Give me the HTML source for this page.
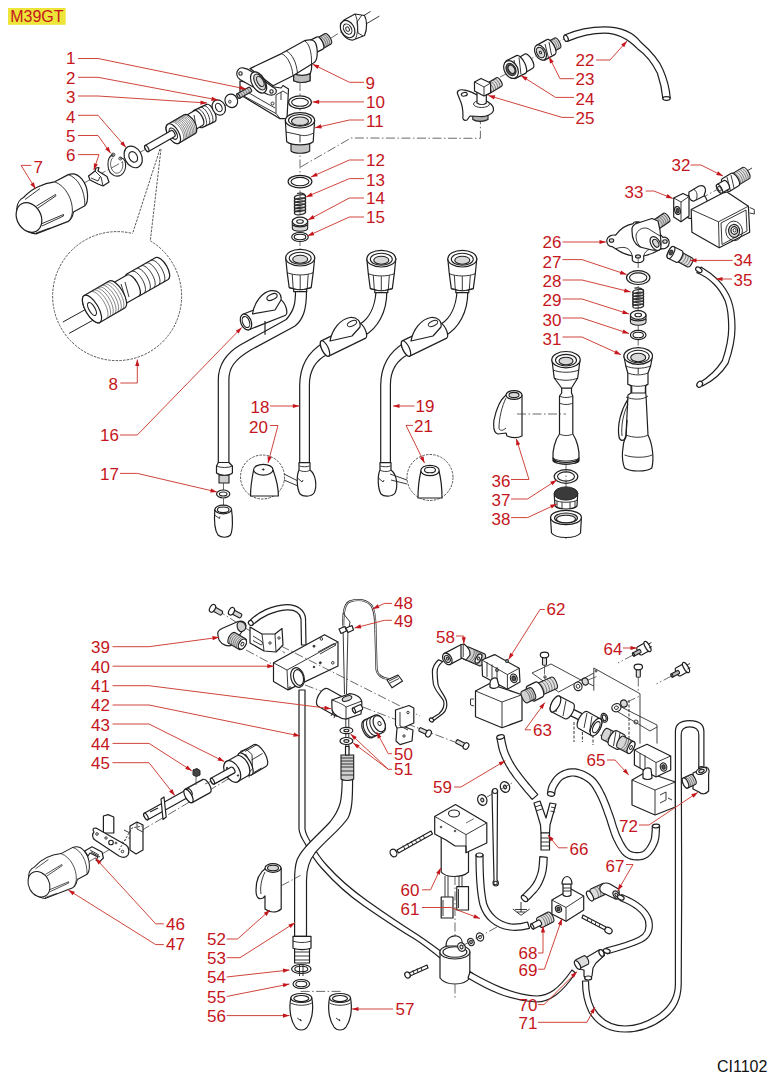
<!DOCTYPE html>
<html><head><meta charset="utf-8"><style>
html,body{margin:0;padding:0;background:#fff;}
body{width:769px;height:1075px;overflow:hidden;position:relative;}
svg{position:absolute;left:0;top:0;}
.lb text{font-family:"Liberation Sans",sans-serif;font-size:17px;fill:#c4161c;}
.ar .ld{fill:none;stroke:#cc3b30;stroke-width:0.95;}
.ar path{fill:#c4161c;}
.p{fill:#fff;stroke:#1f1f1f;stroke-width:1.2;stroke-linejoin:round;}
.w{fill:#fff;stroke:#1f1f1f;stroke-width:1.1;}
.g{fill:#d8d8d8;stroke:#1f1f1f;stroke-width:1.1;}
.dk{fill:#555;stroke:#262626;stroke-width:1;}
.ln{fill:none;stroke:#222;stroke-width:0.9;}
.ln2{fill:none;stroke:#333;stroke-width:0.6;}
.ring{fill:none;stroke:#262626;stroke-width:1.1;}
.ring2{fill:none;stroke:#262626;stroke-width:0.7;}
.dd{fill:none;stroke:#444;stroke-width:0.8;stroke-dasharray:9 2.5 1.5 2.5;}
.dash{fill:none;stroke:#444;stroke-width:0.8;stroke-dasharray:2.5 1.8;}
.dashc{fill:none;stroke:#444;stroke-width:0.9;stroke-dasharray:2.5 1.2;}
</style></head><body>
<svg width="769" height="1075" viewBox="0 0 769 1075">
<rect x="8" y="8" width="57.7" height="16.8" fill="#ede53a"/>
<text x="10.2" y="22" style="font-family:'Liberation Sans',sans-serif;font-size:16px;fill:#c4161c">M39GT</text>
<g id="parts">
<path class="dd" d="M84,183 L250,92"/>
<path class="p" d="M23.5,197.5 C31,189 43,183 54.7,181.8 L68.3,174.6 C79,171 87,183 87.5,194.3 C87.8,200 86.5,204.5 84.9,205.8 L73.5,212 C72.5,217 70,220.5 68.3,221.4 L36,233.9 C24,233 16.5,222 16.8,208.9 C17,203.5 20,199 23.5,197.5 Z"/>
<path class="ln" d="M54.7,181.8 C66,186 73,200 72.4,212 C72,216 70,220 68.3,221.4"/>
<path class="ln" d="M68.3,174.6 C78,178 85,190 84.9,205.8"/>
<ellipse class="p" cx="29" cy="217.5" rx="12" ry="15.5" transform="rotate(-28 29 217.5)"/>
<path class="ln" d="M36.5,206 L55.5,194.5 L56,195.8 L38,208"/>
<path class="ln" d="M41,224 L63.5,214.5 L63.5,216 L42,226"/>
<path class="ln" d="M25,199.5 L40,188.5"/>
<path class="ln" d="M36,233 L50,228"/>
<path class="p" d="M88.5,176 L95,171 L96,168 L99,167.5 L98,171 L107,176.5 L109,182 L103,186 L98,184 L90,180 Z"/>
<path class="ln" d="M95,171 L101,177 L103,186 M91,178 L98,181 L100,177"/>
<path class="ring" d="M113.7,154.6 C106,156 106,172 114,175.5 C122,178.5 127.5,170 125,161 C124,159 122,157.5 120,158.3"/>
<path class="ring2" d="M113,157.5 C109,161 110,170.5 115.5,173 C120.5,174.5 124,168 122.5,161.5"/>
<circle cx="113.2" cy="154.8" r="1.7" class="ln"/>
<circle cx="120.3" cy="158.5" r="1.5" class="ln"/>
<ellipse class="p" cx="133.2" cy="156.9" rx="8.4" ry="11.4" transform="rotate(-28.0 133.2 156.9)" />
<ellipse class="w" cx="133.2" cy="156.9" rx="4.0" ry="5.6" transform="rotate(-28.0 133.2 156.9)" />
<path class="p" d="M202.1,127.6 L214.8,121.6 C216.8,120.6 216.5,116.0 214.3,111.3 C212.1,106.6 208.6,103.5 206.6,104.4 L193.9,110.4 C191.9,111.4 192.2,116.0 194.4,120.7 C196.6,125.4 200.1,128.5 202.1,127.6 Z" />
<path class="ln" d="M205.2,126.1 C207.2,125.1 207.0,120.5 204.8,115.8 C202.5,111.1 199.1,108.0 197.1,108.9"/><path class="ln" d="M208.4,124.6 C210.4,123.6 210.2,119.0 208.0,114.3 C205.7,109.6 202.3,106.5 200.3,107.4"/><path class="ln" d="M211.6,123.1 C213.6,122.1 213.4,117.5 211.1,112.8 C208.9,108.1 205.5,105.0 203.5,105.9"/>
<path class="p" d="M191.8,131.8 L202.8,125.3 C204.6,124.2 204.2,120.1 201.8,116.1 C199.4,112.0 196.0,109.6 194.2,110.7 L183.2,117.2 C181.4,118.3 181.8,122.4 184.2,126.4 C186.6,130.5 190.0,132.9 191.8,131.8 Z" />
<path class="ln" d="M190,117.5 L193,131 M194,115 L196.5,129"/>
<path class="p" d="M178.8,143.2 L195.0,133.8 C197.6,132.3 197.3,126.8 194.3,121.5 C191.2,116.3 186.6,113.3 184.0,114.8 L167.8,124.2 C165.2,125.7 165.5,131.2 168.5,136.5 C171.6,141.7 176.2,144.7 178.8,143.2 Z" /><ellipse class="p" cx="173.3" cy="133.7" rx="5.5" ry="11.0" transform="rotate(-30.1 173.3 133.7)" />
<path class="ln2" d="M181.9,141.4 C184.5,139.9 184.2,134.4 181.1,129.2 C178.1,123.9 173.5,120.9 170.9,122.4"/><path class="ln2" d="M183.4,140.6 C186.0,139.1 185.6,133.6 182.6,128.3 C179.5,123.1 174.9,120.0 172.3,121.6"/><path class="ln2" d="M184.8,139.7 C187.4,138.2 187.1,132.7 184.1,127.5 C181.0,122.2 176.4,119.2 173.8,120.7"/><path class="ln2" d="M186.3,138.9 C188.9,137.4 188.6,131.9 185.5,126.6 C182.5,121.4 177.9,118.3 175.2,119.9"/><path class="ln2" d="M187.7,138.0 C190.4,136.5 190.0,131.0 187.0,125.8 C183.9,120.5 179.3,117.5 176.7,119.0"/><path class="ln2" d="M189.2,137.2 C191.8,135.7 191.5,130.2 188.4,124.9 C185.4,119.7 180.8,116.6 178.1,118.2"/><path class="ln2" d="M190.6,136.4 C193.3,134.8 192.9,129.3 189.9,124.1 C186.8,118.8 182.2,115.8 179.6,117.3"/><path class="ln2" d="M192.1,135.5 C194.7,134.0 194.4,128.5 191.3,123.2 C188.3,118.0 183.7,115.0 181.1,116.5"/><path class="ln2" d="M193.6,134.7 C196.2,133.1 195.8,127.6 192.8,122.4 C189.8,117.1 185.1,114.1 182.5,115.6"/>
<ellipse class="p" cx="173.3" cy="133.7" rx="3.2" ry="6.2" transform="rotate(-30.0 173.3 133.7)" />
<path class="p" d="M148.5,151.5 L174.7,136.5 C175.4,136.0 175.3,134.4 174.3,132.7 C173.4,131.1 172.0,130.1 171.3,130.5 L145.1,145.5 C144.4,146.0 144.5,147.6 145.5,149.3 C146.4,150.9 147.8,151.9 148.5,151.5 Z" /><ellipse class="p" cx="146.8" cy="148.5" rx="1.5" ry="3.4" transform="rotate(-29.8 146.8 148.5)" />
<ellipse class="p" cx="218.8" cy="107.5" rx="6.4" ry="7.9" transform="rotate(-28.0 218.8 107.5)" />
<ellipse class="w" cx="218.8" cy="107.5" rx="3.0" ry="4.4" transform="rotate(-28.0 218.8 107.5)" />
<ellipse class="p" cx="231.3" cy="100.8" rx="6.2" ry="6.9" transform="rotate(-28.0 231.3 100.8)" />
<ellipse class="ln" cx="229.8" cy="101.7" rx="1.2" ry="1.5" transform="rotate(0.0 229.8 101.7)" />
<path class="dashc" d="M160,149 L132.6,233.5 M161,149 L150.3,240.8"/>
<path class="dashc" d="M150.3,240.8 A64.5,64.5 0 1 1 132.6,233.5"/>
<path class="ln" d="M62.9,322 L90,307 M69.1,333.4 L96,318.5" style="stroke-width:1"/>
<path class="p" d="M139.2,295.9 L168.2,279.4 C170.7,277.9 170.0,271.9 166.6,265.9 C163.1,259.9 158.3,256.2 155.8,257.6 L126.8,274.1 C124.3,275.6 125.0,281.6 128.4,287.6 C131.9,293.6 136.7,297.3 139.2,295.9 Z" />
<path class="ln" d="M144.0,293.1 C146.5,291.7 145.8,285.7 142.4,279.7 C139.0,273.7 134.2,270.0 131.7,271.4"/><path class="ln" d="M148.8,290.4 C151.4,288.9 150.6,282.9 147.2,276.9 C143.8,270.9 139.0,267.2 136.5,268.6"/><path class="ln" d="M153.7,287.6 C156.2,286.2 155.5,280.2 152.1,274.2 C148.6,268.2 143.8,264.5 141.3,265.9"/><path class="ln" d="M158.5,284.9 C161.0,283.4 160.3,277.4 156.9,271.4 C153.5,265.4 148.7,261.7 146.2,263.1"/><path class="ln" d="M163.3,282.1 C165.9,280.7 165.1,274.7 161.7,268.7 C158.3,262.7 153.5,259.0 151.0,260.4"/>
<path class="p" d="M125.0,303.9 L139.0,295.9 C141.4,294.5 140.7,288.8 137.4,283.0 C134.1,277.2 129.5,273.7 127.0,275.1 L113.0,283.1 C110.6,284.5 111.3,290.2 114.6,296.0 C117.9,301.8 122.5,305.3 125.0,303.9 Z" />
<path class="ln" d="M121,284 L126,300 M125,282 L129,297"/>
<path class="p" d="M99.8,322.4 L124.8,307.9 C127.9,306.1 126.9,298.6 122.6,291.2 C118.3,283.8 112.3,279.3 109.2,281.1 L84.2,295.6 C81.1,297.4 82.1,304.9 86.4,312.3 C90.7,319.7 96.7,324.2 99.8,322.4 Z" /><ellipse class="p" cx="92.0" cy="309.0" rx="6.5" ry="15.5" transform="rotate(-30.1 92.0 309.0)" />
<path class="ln2" d="M106.2,318.7 C109.3,316.9 108.3,309.4 104.0,302.0 C99.7,294.6 93.7,290.1 90.6,291.9"/><path class="ln2" d="M108.8,317.2 C111.9,315.3 111.0,307.9 106.7,300.5 C102.4,293.1 96.4,288.5 93.3,290.3"/><path class="ln2" d="M111.5,315.6 C114.6,313.8 113.6,306.3 109.4,298.9 C105.1,291.5 99.1,287.0 95.9,288.8"/><path class="ln2" d="M114.2,314.1 C117.3,312.3 116.3,304.8 112.0,297.4 C107.7,290.0 101.7,285.5 98.6,287.3"/><path class="ln2" d="M116.8,312.5 C119.9,310.7 119.0,303.3 114.7,295.9 C110.4,288.5 104.4,283.9 101.3,285.7"/><path class="ln2" d="M119.5,311.0 C122.6,309.2 121.6,301.7 117.3,294.3 C113.0,286.9 107.0,282.4 103.9,284.2"/><path class="ln2" d="M122.1,309.4 C125.2,307.6 124.3,300.2 120.0,292.8 C115.7,285.4 109.7,280.8 106.6,282.6"/>
<ellipse class="p" cx="92.0" cy="309.0" rx="3.0" ry="7.2" transform="rotate(-30.0 92.0 309.0)" />
<path class="ln" d="M361.2,17.2 L370.6,11.4 M364.3,25 L379.4,16.1" style="stroke-width:0.9"/>
<path class="dd" d="M330.4,38.5 L341.8,31.2"/>
<path class="p" d="M344,20 L355,14 L364.5,15.5 C367,20 367.5,29 364.5,35.5 L353,40 C347,40.5 340,34 341,26 Z"/>
<path class="ln" d="M355,14 C358,20 359,30 355.5,39 M362,15 L357,22 L358,33 L363,36"/>
<ellipse class="p" cx="347.6" cy="29.1" rx="6.6" ry="9.2" transform="rotate(-30.0 347.6 29.1)" />
<ellipse class="w" cx="347.6" cy="29.1" rx="3.8" ry="5.5" transform="rotate(-30.0 347.6 29.1)" />
<ellipse class="ln" cx="347.6" cy="29.1" rx="1.6" ry="2.4" transform="rotate(-30.0 347.6 29.1)" />
<path class="p" d="M240,81 L240,94.5 L280,118.7 L287,118.7 L288.5,89 L283,85.5 L281,88 L254,84 Z"/>
<path class="ln" d="M241,94.5 L276,113.5 L280,118.5 M276,113.5 L276,95 L283,91 L287.5,94 M242,89 L275,108 M281,92 L281,100"/>
<circle class="ln" cx="272.5" cy="103.5" r="1.5"/>
<path class="g" d="M322.0,49.2 L331.0,44.0 C332.1,43.3 331.7,40.5 330.1,37.6 C328.4,34.7 326.1,32.9 325.0,33.6 L316.0,38.8 C314.9,39.5 315.3,42.3 316.9,45.2 C318.6,48.1 320.9,49.9 322.0,49.2 Z" style="fill:#d0d0d0"/>
<path class="ln2" d="M323.8,48.2 C324.9,47.5 324.5,44.6 322.9,41.8 C321.2,38.9 318.9,37.1 317.8,37.8"/><path class="ln2" d="M325.6,47.1 C326.7,46.5 326.3,43.6 324.7,40.7 C323.0,37.9 320.7,36.1 319.6,36.7"/><path class="ln2" d="M327.4,46.1 C328.5,45.4 328.1,42.5 326.5,39.7 C324.8,36.8 322.5,35.0 321.4,35.7"/><path class="ln2" d="M329.2,45.0 C330.3,44.4 329.9,41.5 328.3,38.6 C326.6,35.8 324.3,34.0 323.2,34.6"/>
<path class="p" d="M316.0,52.6 L323.0,49.1 C324.4,48.4 324.1,45.1 322.4,41.8 C320.8,38.4 318.3,36.2 317.0,36.9 L310.0,40.4 C308.6,41.1 308.9,44.4 310.6,47.7 C312.2,51.1 314.7,53.3 316.0,52.6 Z" />
<path class="p" d="M293.7,66 L311.5,62 C312,67 311,72 310,74 L310,80.8 C305,83 298,83 293.7,80.8 Z"/>
<path class="g" d="M293.7,73.5 C298,76 306,76 310,73.5 L310,80.8 C305,83 298,83 293.7,80.8 Z" style="fill:#bdbdbd"/>
<path class="p" d="M250,68.6 L281.5,53.6 L304.4,40.7 C309,39.5 313,40 314.4,41.4 C317,44 318,52 316.6,58.6 C316,61 314,63 311.5,64.3 L293,75.8 L273,85.8 Z"/>
<path class="ln" d="M281.5,53.6 C287,56 292,64 293,75.8 M286.5,51 C292,54 296.5,62 297.5,73.5 M304.4,40.7 C309,43 312,52 311.5,64.3"/>
<path class="p" d="M237.2,71.5 C238.5,68.5 240.5,67.5 243,67.8 C246,68.2 249,69.5 251.5,71.5 L273,87.2 C276,88.5 277,91 275.8,93 C274.5,95 271,95.5 268,94.5 L260,91 L240,79.4 C237,77.5 236.3,74 237.2,71.5 Z"/>
<circle class="w" cx="240.5" cy="73.5" r="1.7"/><circle class="w" cx="271.5" cy="91.5" r="1.7"/>
<ellipse class="p" cx="258.6" cy="82.5" rx="6.6" ry="11.5" transform="rotate(-30.0 258.6 82.5)" />
<ellipse class="g" cx="259.6" cy="82.0" rx="4.6" ry="8.8" transform="rotate(-30.0 259.6 82.0)" />
<ellipse class="ln" cx="260.3" cy="81.5" rx="2.8" ry="5.6" transform="rotate(-30.0 260.3 81.5)" />
<path class="dd" d="M300,82 L300,250"/>
<path class="dd" d="M300.7,167 L351,138 L480.4,138.3 L480.4,121"/>
<ellipse class="p" cx="300.0" cy="102.3" rx="11.4" ry="6.4" transform="rotate(0.0 300.0 102.3)" />
<ellipse class="w" cx="300.0" cy="102.3" rx="8.4" ry="4.0" transform="rotate(0.0 300.0 102.3)" />
<path class="g" d="M291,141.8 L309.7,141.8 L309.7,151 C306,154 294,154 291,151 Z" style="fill:#c4c4c4"/>
<path class="p" d="M285.3,120.3 L286.7,141.8 C292,146 308,146 313.2,141.8 L314.6,120.3 Z"/>
<path class="ln" d="M286,132 L300,135 L300,142.5 M300,135 C303,136 308,136 313.5,133"/>
<ellipse class="p" cx="300.0" cy="120.3" rx="14.6" ry="7.7" transform="rotate(0.0 300.0 120.3)" />
<ellipse class="w" cx="300.0" cy="120.3" rx="11.5" ry="5.8" transform="rotate(0.0 300.0 120.3)" />
<ellipse class="g" cx="300.0" cy="121.2" rx="8.5" ry="4.2" transform="rotate(0.0 300.0 121.2)" />
<ellipse class="p" cx="300.0" cy="181.6" rx="11.9" ry="6.3" transform="rotate(0.0 300.0 181.6)" />
<ellipse class="w" cx="300.0" cy="181.6" rx="9.0" ry="4.2" transform="rotate(0.0 300.0 181.6)" />
<ellipse class="ring" cx="300.0" cy="197.0" rx="5.6" ry="2.1" transform="rotate(-8.0 300.0 197.0)" style="stroke-width:1.3;stroke:#333"/>
<ellipse class="ring" cx="300.0" cy="200.1" rx="5.6" ry="2.1" transform="rotate(-8.0 300.0 200.1)" style="stroke-width:1.3;stroke:#333"/>
<ellipse class="ring" cx="300.0" cy="203.2" rx="5.6" ry="2.1" transform="rotate(-8.0 300.0 203.2)" style="stroke-width:1.3;stroke:#333"/>
<ellipse class="ring" cx="300.0" cy="206.3" rx="5.6" ry="2.1" transform="rotate(-8.0 300.0 206.3)" style="stroke-width:1.3;stroke:#333"/>
<ellipse class="ring" cx="300.0" cy="209.4" rx="5.6" ry="2.1" transform="rotate(-8.0 300.0 209.4)" style="stroke-width:1.3;stroke:#333"/>
<ellipse class="ring" cx="300.0" cy="212.5" rx="5.6" ry="2.1" transform="rotate(-8.0 300.0 212.5)" style="stroke-width:1.3;stroke:#333"/>
<path class="ln" d="M294.4,197 L294.4,213 M305.6,196 L305.6,212.5"/>
<path class="ln" d="M297,193.5 C300,192.5 304,193 305.5,195.5" style="stroke-width:1.2"/>
<path class="g" d="M292.3,221.5 L292.3,228.0 C292.3,229.8 295.7,231.2 300.0,231.2 C304.3,231.2 307.7,229.8 307.7,228.0 L307.7,221.5 C307.7,219.7 304.3,218.3 300.0,218.3 C295.7,218.3 292.3,219.7 292.3,221.5 Z" />
<ellipse class="p" cx="300.0" cy="221.5" rx="7.7" ry="4.3" transform="rotate(0.0 300.0 221.5)" />
<ellipse class="w" cx="300.0" cy="221.5" rx="3.3" ry="1.8" transform="rotate(0.0 300.0 221.5)" />
<path class="ln" d="M292.5,225 C296,227.5 304,227.5 307.5,225" style="stroke-width:1.4"/>
<ellipse class="p" cx="300.0" cy="237.0" rx="8.3" ry="4.5" transform="rotate(0.0 300.0 237.0)" />
<ellipse class="w" cx="300.0" cy="237.0" rx="5.8" ry="2.7" transform="rotate(0.0 300.0 237.0)" />
<path class="g" d="M239.8,98.3 L251.3,91.8 C251.8,91.5 251.7,90.2 251.0,89.0 C250.2,87.7 249.2,86.9 248.7,87.2 L237.2,93.7 C236.7,94.0 236.8,95.3 237.5,96.5 C238.3,97.8 239.3,98.6 239.8,98.3 Z" style="fill:#ccc"/><ellipse class="g" cx="238.5" cy="96.0" rx="1.1" ry="2.6" transform="rotate(-29.5 238.5 96.0)" />
<path class="ln2" d="M242.1,97.0 C242.6,96.7 242.5,95.4 241.8,94.2 C241.0,92.9 240.0,92.1 239.5,92.4"/><path class="ln2" d="M244.4,95.7 C244.9,95.4 244.8,94.1 244.1,92.9 C243.3,91.6 242.3,90.8 241.8,91.1"/><path class="ln2" d="M246.7,94.4 C247.2,94.1 247.1,92.8 246.4,91.6 C245.6,90.3 244.6,89.5 244.1,89.8"/><path class="ln2" d="M249.0,93.1 C249.5,92.8 249.4,91.5 248.7,90.3 C247.9,89.0 246.9,88.2 246.4,88.5"/>
<path class="p" d="M295.5,290.7 C295.5,302 294.7,310 286.2,319.5 L240.6,344.8 C225,354 218.3,365 218.3,380 L218.3,462.5 L228.9,462.5 L228.9,380 C228.9,368 234,360 250.7,350 L294.7,326.2 C304,319 306.5,308 306.5,290.7 Z"/>
<path class="p" d="M285.7,257.7 L287.2,272.7 L289.2,287.7 L293.7,288.7 L293.7,291.7 L306.7,291.7 L306.7,288.7 L311.2,287.7 L313.2,272.7 L314.7,257.7 Z"/>
<path class="ln" d="M287.2,272.7 C294.2,275.7 306.2,275.7 313.2,272.7 M289.2,287.7 C295.2,290.2 305.2,290.2 311.2,287.7 M300.2,275.2 L300.2,289.2 M292.2,274.2 L293.2,288.7 M308.2,274.2 L307.2,288.7 M293.7,288.7 C297.2,290.2 303.2,290.2 306.7,288.7"/>
<ellipse class="p" cx="300.2" cy="257.7" rx="14.5" ry="8.3" transform="rotate(0.0 300.2 257.7)" />
<ellipse class="w" cx="300.2" cy="258.2" rx="11.0" ry="6.0" transform="rotate(0.0 300.2 258.2)" />
<ellipse class="g" cx="300.2" cy="259.2" rx="7.5" ry="4.0" transform="rotate(0.0 300.2 259.2)" />
<path class="p" d="M249.1,329.7 L285.6,315.2 C287.3,314.5 287.3,310.5 285.6,306.3 C283.9,302.0 281.1,299.1 279.4,299.8 L242.9,314.3 C241.2,315.0 241.2,319.0 242.9,323.2 C244.6,327.5 247.4,330.4 249.1,329.7 Z" />
<path class="p" d="M252.5,314 C254,303 262,292 271,290.7 C278,290 282,294 281,300 L275,310 Z"/>
<ellipse class="w" cx="272.0" cy="297.0" rx="5.5" ry="2.8" transform="rotate(-25.0 272.0 297.0)" />
<ellipse class="p" cx="246.0" cy="322.0" rx="5.2" ry="8.3" transform="rotate(-22.0 246.0 322.0)" />
<ellipse class="w" cx="246.0" cy="322.0" rx="3.4" ry="5.8" transform="rotate(-22.0 246.0 322.0)" />
<path class="ln" d="M265,321 L265,334.7" style="stroke-width:1.2"/>
<path class="g" d="M219,475 L229,475 L229,483 L219,483 Z" style="fill:#cfcfcf"/>
<path class="p" d="M218.3,462.5 L228.9,462.5 L232.4,466 L232.4,473 C229,476 220,476 216.5,473 L216.5,466 Z"/>
<path class="ln" d="M216.5,466 C220,468 229,468 232.4,466"/>
<path class="dd" d="M223.5,483 L223.5,506"/>
<ellipse class="p" cx="223.2" cy="494.0" rx="6.6" ry="4.0" transform="rotate(0.0 223.2 494.0)" />
<ellipse class="w" cx="223.2" cy="494.0" rx="3.8" ry="2.0" transform="rotate(0.0 223.2 494.0)" />
<path class="p" d="M214.8,509.5 C214,520 214.5,530 218,535 C221,538 228,538 230.5,535 C233,530 232.8,518 231.5,509.5 Z"/>
<ellipse class="p" cx="223.2" cy="509.5" rx="8.3" ry="4.3" transform="rotate(0.0 223.2 509.5)" />
<ellipse class="w" cx="223.2" cy="509.8" rx="5.8" ry="2.8" transform="rotate(0.0 223.2 509.8)" />
<path class="ln" d="M214.5,515 L219.5,518.5 L220,516.5"/>
<circle class="dashc" cx="262.5" cy="477" r="22"/>
<path class="p" d="M253.6,470 C252,478 250.5,488 250.5,496 L278.4,496 C278.4,488 276,478 273,470 Z"/>
<ellipse class="p" cx="263.3" cy="469.7" rx="9.7" ry="5.4" transform="rotate(0.0 263.3 469.7)" />
<ellipse class="dk" cx="263.3" cy="469.5" rx="0.9" ry="0.6" transform="rotate(0.0 263.3 469.5)" />
<path class="ln" d="M284,474 L298,481 M284,480 L298,486"/>
<path class="p" d="M376,292 C375,305 370,318 360,324 L323,343 C308,352 300,365 299.7,385 L299.7,462.6 L309.4,462.6 L309.4,385 C309.4,370 315,360 328.7,353.7 L364,336 C378,328 386.8,312 386.8,292 Z"/>
<path class="p" d="M366.8,258.7 L368.3,273.7 L370.3,288.7 L374.8,289.7 L374.8,292.7 L387.8,292.7 L387.8,289.7 L392.3,288.7 L394.3,273.7 L395.8,258.7 Z"/>
<path class="ln" d="M368.3,273.7 C375.3,276.7 387.3,276.7 394.3,273.7 M370.3,288.7 C376.3,291.2 386.3,291.2 392.3,288.7 M381.3,276.2 L381.3,290.2 M373.3,275.2 L374.3,289.7 M389.3,275.2 L388.3,289.7 M374.8,289.7 C378.3,291.2 384.3,291.2 387.8,289.7"/>
<ellipse class="p" cx="381.3" cy="258.7" rx="14.5" ry="8.3" transform="rotate(0.0 381.3 258.7)" />
<ellipse class="w" cx="381.3" cy="259.2" rx="11.0" ry="6.0" transform="rotate(0.0 381.3 259.2)" />
<ellipse class="g" cx="381.3" cy="260.2" rx="7.5" ry="4.0" transform="rotate(0.0 381.3 260.2)" />
<path class="p" d="M328.7,356.1 L365.7,338.1 C367.3,337.4 367.0,333.3 364.9,329.1 C362.9,324.9 359.9,322.1 358.3,322.9 L321.3,340.9 C319.7,341.6 320.0,345.7 322.1,349.9 C324.1,354.1 327.1,356.9 328.7,356.1 Z" />
<path class="p" d="M330,341 C332,330 340,319 350,317.5 C357,317 361,321 360,327 L352,336 Z"/>
<ellipse class="ln" cx="352.0" cy="323.5" rx="5.0" ry="2.5" transform="rotate(-25.0 352.0 323.5)" />
<ellipse class="p" cx="325.0" cy="348.5" rx="3.2" ry="8.5" transform="rotate(-26.0 325.0 348.5)" />
<path class="p" d="M299,462.6 L299,470 C296.5,475 296.5,488 300,494 C303,497 311,497 314,493 C317,487 316.5,475 310,470 L310,462.6 Z"/>
<path class="ln" d="M299,470 C302,472 308,472 310,470 M299.5,466 C302,467 307,467 309.5,466"/>
<path class="ln" d="M297.5,478 L302,482 L303,480"/>
<path class="p" d="M457,292 C456,305 451,318 441,324 L404,343 C389,352 381,365 380.7,385 L380.7,462.6 L390.4,462.6 L390.4,385 C390.4,370 396,360 409.7,353.7 L445,336 C459,328 467.8,312 467.8,292 Z"/>
<path class="p" d="M447.8,258.7 L449.3,273.7 L451.3,288.7 L455.8,289.7 L455.8,292.7 L468.8,292.7 L468.8,289.7 L473.3,288.7 L475.3,273.7 L476.8,258.7 Z"/>
<path class="ln" d="M449.3,273.7 C456.3,276.7 468.3,276.7 475.3,273.7 M451.3,288.7 C457.3,291.2 467.3,291.2 473.3,288.7 M462.3,276.2 L462.3,290.2 M454.3,275.2 L455.3,289.7 M470.3,275.2 L469.3,289.7 M455.8,289.7 C459.3,291.2 465.3,291.2 468.8,289.7"/>
<ellipse class="p" cx="462.3" cy="258.7" rx="14.5" ry="8.3" transform="rotate(0.0 462.3 258.7)" />
<ellipse class="w" cx="462.3" cy="259.2" rx="11.0" ry="6.0" transform="rotate(0.0 462.3 259.2)" />
<ellipse class="g" cx="462.3" cy="260.2" rx="7.5" ry="4.0" transform="rotate(0.0 462.3 260.2)" />
<path class="p" d="M409.7,356.1 L446.7,338.1 C448.3,337.4 448.0,333.3 445.9,329.1 C443.9,324.9 440.9,322.1 439.3,322.9 L402.3,340.9 C400.7,341.6 401.0,345.7 403.1,349.9 C405.1,354.1 408.1,356.9 409.7,356.1 Z" />
<path class="p" d="M411,341 C413,330 421,319 431,317.5 C438,317 442,321 441,327 L433,336 Z"/>
<ellipse class="ln" cx="433.0" cy="323.5" rx="5.0" ry="2.5" transform="rotate(-25.0 433.0 323.5)" />
<ellipse class="p" cx="406.0" cy="348.5" rx="3.2" ry="8.5" transform="rotate(-26.0 406.0 348.5)" />
<path class="p" d="M380,462.6 L380,470 C377.5,475 377.5,488 381,494 C384,497 392,497 395,493 C398,487 397.5,475 391,470 L391,462.6 Z"/>
<path class="ln" d="M380,470 C383,472 389,472 391,470 M380.5,466 C383,467 388,467 390.5,466"/>
<path class="ln" d="M378.5,478 L383,482 L384,480"/>
<circle class="dashc" cx="430" cy="477.5" r="23"/>
<path class="p" d="M421,471 C419,479 418,489 418,498 L442,498 C442,489 441,479 439,471 Z"/>
<ellipse class="p" cx="430.0" cy="470.5" rx="9.2" ry="5.2" transform="rotate(0.0 430.0 470.5)" />
<ellipse class="w" cx="430.0" cy="470.0" rx="5.5" ry="2.8" transform="rotate(0.0 430.0 470.0)" />
<path class="ln" d="M390,474 L407,480 M391,480 L407,484"/>
<path class="p" d="M564.6,35 C578,29 590,26.8 604.6,26.8 C622,27 634,33 641,42.3 C652,52 659,60 662.9,69.6 C667,79 669.5,89 670.2,97.8 L662.9,98.7 C662,89 660,81 657.4,73.3 C652,62 645,54 637.4,48.7 C628,39 617,33.2 604.6,33.2 C592,33.2 580,36 567.3,41.4 Z"/>
<ellipse class="p" cx="666.5" cy="98.5" rx="3.7" ry="1.8" transform="rotate(0.0 666.5 98.5)" />
<ellipse class="p" cx="566.0" cy="38.3" rx="2.0" ry="3.3" transform="rotate(-25.0 566.0 38.3)" />
<path class="dd" d="M549,47 L564,39"/>
<path class="g" d="M552.7,52.1 L560.2,48.1 C561.4,47.5 561.1,44.7 559.5,41.9 C558.0,39.1 555.9,37.3 554.8,37.9 L547.3,41.9 C546.1,42.5 546.4,45.3 548.0,48.1 C549.5,50.9 551.6,52.7 552.7,52.1 Z" style="fill:#e0e0e0"/>
<path class="ln2" d="M554.6,51.1 C555.7,50.5 555.4,47.7 553.9,44.9 C552.4,42.1 550.3,40.3 549.1,40.9"/><path class="ln2" d="M556.5,50.1 C557.6,49.5 557.3,46.7 555.8,43.9 C554.3,41.1 552.2,39.3 551.0,39.9"/><path class="ln2" d="M558.4,49.1 C559.5,48.5 559.2,45.7 557.7,42.9 C556.2,40.1 554.0,38.3 552.9,38.9"/>
<path class="p" d="M545.1,59.9 L555.1,54.4 C556.7,53.5 556.2,49.5 554.0,45.4 C551.7,41.2 548.5,38.6 546.9,39.6 L536.9,45.1 C535.3,46.0 535.8,50.0 538.0,54.1 C540.3,58.3 543.5,60.9 545.1,59.9 Z" />
<path class="ln" d="M545,44 L548.5,58 M549,42 L551.5,55"/>
<ellipse class="p" cx="540.5" cy="52.5" rx="5.2" ry="8.2" transform="rotate(-28.0 540.5 52.5)" />
<ellipse class="g" cx="540.5" cy="52.5" rx="3.6" ry="5.6" transform="rotate(-28.0 540.5 52.5)" />
<ellipse class="ln" cx="540.5" cy="52.5" rx="1.0" ry="1.4" transform="rotate(-28.0 540.5 52.5)" />
<path class="dd" d="M522,64 L536,56"/>
<path class="p" d="M523.1,73.9 L533.1,67.9 C534.6,67.0 534.0,63.1 531.7,59.4 C529.5,55.6 526.4,53.2 524.9,54.1 L514.9,60.1 C513.4,61.0 514.0,64.9 516.3,68.6 C518.5,72.4 521.6,74.8 523.1,73.9 Z" />
<path class="p" d="M515.5,78.4 L525.5,73.4 C527.4,72.5 527.0,67.7 524.6,62.7 C522.1,57.8 518.5,54.6 516.5,55.6 L506.5,60.6 C504.6,61.5 505.0,66.3 507.4,71.3 C509.9,76.2 513.5,79.4 515.5,78.4 Z" />
<path class="ln" d="M514,60 L517,77.5 M519,57.5 L521,74.5"/>
<ellipse class="p" cx="511.0" cy="69.5" rx="6.6" ry="9.5" transform="rotate(-28.0 511.0 69.5)" />
<ellipse class="dk" cx="511.0" cy="69.5" rx="4.6" ry="6.6" transform="rotate(-28.0 511.0 69.5)" />
<ellipse class="g" cx="511.5" cy="69.2" rx="3.0" ry="4.5" transform="rotate(-28.0 511.5 69.2)" />
<path class="dd" d="M500,77 L506,74"/>
<path class="g" d="M472.8,114.7 L488,114.7 L488,119.5 C484,122 476,122 472.8,119.5 Z" style="fill:#b0b0b0"/>
<path class="p" d="M458,95 C456,91 459,89.5 463,89.8 C467,90 472,92 477,95 L482,99 C490,102 494,106 493.5,110 C493,114 486,117 480,116.5 L470,116 L467,120 C464,121 462,119 463,116 C463,110 462,104 460,100 Z"/>
<ellipse class="w" cx="464.3" cy="94.3" rx="3.0" ry="1.8" transform="rotate(-10.0 464.3 94.3)" />
<ellipse class="ln" cx="481.5" cy="104.0" rx="8.0" ry="3.5" transform="rotate(0.0 481.5 104.0)" />
<path class="g" d="M486.6,95.3 L501.6,86.3 C502.6,85.7 502.2,83.3 500.8,80.9 C499.4,78.6 497.4,77.1 496.4,77.7 L481.4,86.7 C480.4,87.3 480.8,89.7 482.2,92.1 C483.6,94.4 485.6,95.9 486.6,95.3 Z" style="fill:#dedede"/>
<path class="ln2" d="M490.8,92.9 C491.8,92.3 491.4,89.9 490.0,87.6 C488.5,85.2 486.5,83.8 485.5,84.4"/><path class="ln2" d="M493.0,91.6 C493.9,91.0 493.6,88.6 492.1,86.2 C490.7,83.9 488.7,82.5 487.7,83.1"/><path class="ln2" d="M495.1,90.3 C496.1,89.7 495.7,87.3 494.3,84.9 C492.8,82.5 490.9,81.1 489.9,81.7"/><path class="ln2" d="M497.3,88.9 C498.3,88.3 497.9,85.9 496.5,83.6 C495.0,81.2 493.0,79.8 492.0,80.4"/><path class="ln2" d="M499.5,87.6 C500.4,87.0 500.1,84.6 498.6,82.2 C497.2,79.9 495.2,78.5 494.2,79.1"/>
<path class="p" d="M477,85 L477,103 C480,105 484,105 486.3,103 L486.3,85 Z"/>
<path class="p" d="M474.5,82 L481,78.5 L490.6,83 L490.6,92.7 L484,96 L474.5,91 Z"/>
<path class="ln" d="M474.5,82 L484,87 L490.6,83 M484,87 L484,96"/>
<path class="ln" d="M745,172 L752,168"/>
<path class="g" d="M737.9,185.6 L749.4,178.6 C750.7,177.8 750.2,174.6 748.3,171.6 C746.5,168.5 743.9,166.7 742.6,167.4 L731.1,174.4 C729.8,175.2 730.3,178.4 732.2,181.4 C734.0,184.5 736.6,186.3 737.9,185.6 Z" style="fill:#e4e4e4"/>
<path class="ln2" d="M739.8,184.4 C741.1,183.6 740.6,180.5 738.7,177.4 C736.9,174.3 734.3,172.5 733.0,173.3"/><path class="ln2" d="M741.7,183.2 C743.0,182.4 742.5,179.3 740.7,176.2 C738.8,173.2 736.2,171.3 735.0,172.1"/><path class="ln2" d="M743.6,182.1 C744.9,181.3 744.4,178.1 742.6,175.1 C740.7,172.0 738.2,170.2 736.9,170.9"/><path class="ln2" d="M745.5,180.9 C746.8,180.1 746.4,177.0 744.5,173.9 C742.6,170.8 740.1,169.0 738.8,169.8"/><path class="ln2" d="M747.5,179.7 C748.8,178.9 748.3,175.8 746.4,172.7 C744.5,169.7 742.0,167.8 740.7,168.6"/>
<path class="p" d="M729.8,191.2 L738.8,185.7 C740.3,184.8 739.7,181.3 737.6,177.9 C735.5,174.5 732.6,172.4 731.2,173.3 L722.2,178.8 C720.7,179.7 721.3,183.2 723.4,186.6 C725.5,190.0 728.4,192.1 729.8,191.2 Z" />
<path class="ln" d="M727,177 L730.5,191 M731,175 L734,188"/>
<path class="p" d="M722.0,193.1 L729.0,189.1 C730.0,188.6 729.7,186.2 728.3,183.8 C727.0,181.4 725.0,179.9 724.0,180.5 L717.0,184.5 C716.0,185.0 716.3,187.4 717.7,189.8 C719.0,192.2 721.0,193.7 722.0,193.1 Z" /><ellipse class="p" cx="719.5" cy="188.8" rx="2.1" ry="5.0" transform="rotate(-29.7 719.5 188.8)" />
<ellipse class="ln" cx="719.5" cy="188.8" rx="1.5" ry="2.5" transform="rotate(-30.0 719.5 188.8)" />
<path class="dd" d="M700,199 L718,189"/>
<path class="p" d="M691.1,218.2 L707.1,209.2 C709.3,208.0 708.7,202.9 705.8,197.8 C703.0,192.8 699.0,189.7 696.9,190.8 L680.9,199.8 C678.7,201.0 679.3,206.1 682.2,211.2 C685.0,216.2 689.0,219.3 691.1,218.2 Z" />
<path class="p" d="M689,192 L699,186 C703,184.5 706,187 705.5,191 L704,196 L694,201 C690,201.5 688,197 689,192 Z"/>
<path class="ln" d="M694,189.5 C697,191 698,196 696,200"/>
<path class="p" d="M673.7,198 L683,193.5 L689,196.5 L689,216 L681,221.8 L673.7,217 Z"/>
<path class="ln" d="M673.7,198 L681,202 L689,196.5 M681,202 L681,221.8"/>
<ellipse class="g" cx="677.5" cy="210.5" rx="2.8" ry="4.0" transform="rotate(-15.0 677.5 210.5)" />
<ellipse class="dk" cx="677.7" cy="210.7" rx="1.4" ry="2.2" transform="rotate(-15.0 677.7 210.7)" />
<path class="p" d="M691.2,209.5 L722.4,193.2 L727,192 L748.4,206.2 L749.7,232.2 L719.2,247.8 L691.9,232.2 Z"/>
<path class="ln" d="M691.2,209.5 L718.5,221.8 L748.4,206.2 M718.5,221.8 L719.2,247.8 M721,223 L746,210 L747,231 L722,244.5 Z"/>
<path class="ln" d="M749.7,207.5 L754.3,209.5 L754.3,214 L749.7,213"/>
<ellipse class="ln" cx="734.1" cy="230.9" rx="8.3" ry="9.8" transform="rotate(-5.0 734.1 230.9)" />
<ellipse class="g" cx="734.1" cy="230.9" rx="5.5" ry="6.5" transform="rotate(-5.0 734.1 230.9)" />
<ellipse class="p" cx="734.3" cy="230.5" rx="3.3" ry="3.8" transform="rotate(-5.0 734.3 230.5)" />
<ellipse class="ln" cx="734.6" cy="230.3" rx="1.5" ry="1.8" transform="rotate(-5.0 734.6 230.3)" />
<path class="p" d="M615.6,235.2 C612,234.5 607.5,236 606.8,240 C606.5,244 609,246.6 612,246.6 L615.6,248.7 C620,252 626,254.5 632.3,256 L632.3,260 C634,263.5 642,263.5 643.7,260 L643.7,256 C650,254.5 656,252 661.4,248.7 C665,249.5 669.5,247 669.2,242 C669,238.5 666,236.8 663,237.3 C660,233 652,228 642.7,225.5 C642,221.5 634,220.5 633.3,223.7 C626,225 620,229 615.6,235.2 Z"/>
<path class="ln" d="M615.6,248.7 C624,246 630,247 632.3,256 M643.7,256 C645,249 653,247 661.4,248.7"/>
<ellipse class="g" cx="611.5" cy="240.5" rx="2.2" ry="1.8" transform="rotate(0.0 611.5 240.5)" /><ellipse class="g" cx="638.0" cy="223.8" rx="2.5" ry="1.5" transform="rotate(0.0 638.0 223.8)" /><ellipse class="g" cx="665.0" cy="241.5" rx="2.2" ry="1.8" transform="rotate(0.0 665.0 241.5)" /><ellipse class="g" cx="638.0" cy="256.5" rx="2.5" ry="1.6" transform="rotate(0.0 638.0 256.5)" />
<path class="g" d="M659.9,228.3 L669.4,221.8 C670.4,221.1 669.9,218.6 668.3,216.3 C666.7,213.9 664.6,212.5 663.6,213.2 L654.1,219.7 C653.1,220.4 653.6,222.9 655.2,225.2 C656.8,227.6 658.9,229.0 659.9,228.3 Z" style="fill:#cfcfcf"/>
<path class="ln2" d="M661.8,227.0 C662.8,226.3 662.3,223.8 660.7,221.5 C659.1,219.1 657.0,217.7 656.0,218.4"/><path class="ln2" d="M663.7,225.7 C664.7,225.0 664.2,222.5 662.6,220.2 C661.0,217.8 658.9,216.4 657.9,217.1"/><path class="ln2" d="M665.6,224.4 C666.6,223.7 666.1,221.2 664.5,218.9 C662.9,216.5 660.8,215.1 659.8,215.8"/><path class="ln2" d="M667.5,223.1 C668.5,222.4 668.0,219.9 666.4,217.6 C664.8,215.2 662.7,213.8 661.7,214.5"/>
<path class="p" d="M632,231 C631,227 634,224 638,223 L652,218.5 L658,221 L660,230 L661,243 C661,248 657,251 652,250 L640,247 C634,244 632,238 632,231 Z"/>
<path class="ln" d="M636,235 C638,229 643,227 648,228.5 L660,236 M636,235 C636,241 638,245 641,247"/>
<ellipse class="p" cx="655.5" cy="243.5" rx="4.6" ry="7.5" transform="rotate(-30.0 655.5 243.5)" />
<ellipse class="g" cx="655.8" cy="243.3" rx="2.6" ry="4.3" transform="rotate(-30.0 655.8 243.3)" />
<path class="dd" d="M638.2,259 L638.2,350"/>
<path class="g" d="M675.6,260.4 L687.6,266.9 C688.6,267.4 690.5,265.9 691.8,263.5 C693.2,261.1 693.4,258.7 692.4,258.1 L680.4,251.6 C679.4,251.1 677.5,252.6 676.2,255.0 C674.8,257.4 674.6,259.8 675.6,260.4 Z" style="fill:#dedede"/>
<path class="ln2" d="M678.0,261.7 C679.0,262.2 680.9,260.7 682.2,258.3 C683.6,255.9 683.8,253.5 682.8,252.9"/><path class="ln2" d="M680.4,263.0 C681.4,263.5 683.3,262.0 684.6,259.6 C686.0,257.2 686.2,254.8 685.2,254.2"/><path class="ln2" d="M682.8,264.3 C683.8,264.8 685.7,263.3 687.0,260.9 C688.4,258.5 688.6,256.1 687.6,255.5"/><path class="ln2" d="M685.2,265.6 C686.2,266.1 688.1,264.6 689.4,262.2 C690.8,259.8 691.0,257.4 690.0,256.8"/>
<path class="p" d="M668.1,258.3 L676.1,262.3 C677.4,263.0 679.8,260.9 681.4,257.7 C683.0,254.5 683.3,251.4 681.9,250.7 L673.9,246.7 C672.6,246.0 670.2,248.1 668.6,251.3 C667.0,254.5 666.7,257.6 668.1,258.3 Z" /><ellipse class="p" cx="671.0" cy="252.5" rx="2.7" ry="6.5" transform="rotate(26.6 671.0 252.5)" />
<ellipse class="dk" cx="671.0" cy="252.5" rx="1.5" ry="2.5" transform="rotate(30.0 671.0 252.5)" />
<path class="p" d="M701,267 C706,270 713,275 718,279.8 C724,286 728,292 730.9,299.6 C734,308 735,318 735,328 C735,340 732,352 728,363.4 C722,373 713,381 702.5,386 L699.7,382.5 C709,377 717,369 722.4,360.6 C726,350 728.7,340 728.7,328 C728.7,318 728,309 725.2,301 C722,294 719,289 713.9,284 C709,279 703,275 696.9,272.7 Z"/>
<ellipse class="p" cx="698.8" cy="269.8" rx="2.2" ry="3.5" transform="rotate(-55.0 698.8 269.8)" />
<ellipse class="p" cx="699.7" cy="384.3" rx="2.6" ry="3.2" transform="rotate(40.0 699.7 384.3)" />
<ellipse class="p" cx="638.2" cy="277.6" rx="11.7" ry="6.9" transform="rotate(0.0 638.2 277.6)" />
<ellipse class="w" cx="638.2" cy="277.6" rx="8.7" ry="4.7" transform="rotate(0.0 638.2 277.6)" />
<ellipse class="ring" cx="638.2" cy="291.5" rx="5.4" ry="2.0" transform="rotate(-8.0 638.2 291.5)" style="stroke-width:1.3;stroke:#333"/>
<ellipse class="ring" cx="638.2" cy="294.4" rx="5.4" ry="2.0" transform="rotate(-8.0 638.2 294.4)" style="stroke-width:1.3;stroke:#333"/>
<ellipse class="ring" cx="638.2" cy="297.3" rx="5.4" ry="2.0" transform="rotate(-8.0 638.2 297.3)" style="stroke-width:1.3;stroke:#333"/>
<ellipse class="ring" cx="638.2" cy="300.2" rx="5.4" ry="2.0" transform="rotate(-8.0 638.2 300.2)" style="stroke-width:1.3;stroke:#333"/>
<ellipse class="ring" cx="638.2" cy="303.1" rx="5.4" ry="2.0" transform="rotate(-8.0 638.2 303.1)" style="stroke-width:1.3;stroke:#333"/>
<ellipse class="ring" cx="638.2" cy="306.0" rx="5.4" ry="2.0" transform="rotate(-8.0 638.2 306.0)" style="stroke-width:1.3;stroke:#333"/>
<path class="ln" d="M632.8,291.5 L632.8,306 M643.6,290.5 L643.6,305.5"/>
<path class="ln" d="M634.5,288.2 C637,287.5 641,288 643.5,290" style="stroke-width:1.2"/>
<path class="g" d="M630.4,315.0 L630.4,322.0 C630.4,323.8 633.9,325.3 638.2,325.3 C642.5,325.3 646.0,323.8 646.0,322.0 L646.0,315.0 C646.0,313.2 642.5,311.7 638.2,311.7 C633.9,311.7 630.4,313.2 630.4,315.0 Z" />
<ellipse class="p" cx="638.2" cy="315.0" rx="7.8" ry="4.3" transform="rotate(0.0 638.2 315.0)" />
<ellipse class="w" cx="638.2" cy="315.0" rx="3.3" ry="1.8" transform="rotate(0.0 638.2 315.0)" />
<path class="ln" d="M630.5,319 C634,321.5 642,321.5 646,319" style="stroke-width:1.4"/>
<ellipse class="p" cx="638.2" cy="335.0" rx="7.8" ry="4.6" transform="rotate(0.0 638.2 335.0)" />
<ellipse class="w" cx="638.2" cy="335.0" rx="5.2" ry="2.8" transform="rotate(0.0 638.2 335.0)" />
<path class="p" d="M631,385 L631,393 L628,395 L626,435 C622,445 621,460 624.7,468 C630,472 647,472 651.8,468 C654,460 653,445 648,435 L646,395 L645.7,393 L645.7,385 Z"/>
<path class="ln" d="M626,397 C633,400 643,400 648,396 M626,435 C633,438 643,438 648,435 M624.5,455 C632,458 646,458 652,455"/>
<path class="p" d="M628,399 C621,410 617,425 619,437 C620,441 624,442 626,437 L627,420" style="fill:none"/>
<path class="ln" d="M628,404 C623,414 621,426 622,436"/>
<path class="p" d="M623.9,356 L625.8,366 L627.8,373 L627.8,384.3 L631.7,386 L631.7,393 L645.4,393 L645.4,386 L648,384.3 L648,373 L650.6,366 L652.5,356 Z"/>
<path class="ln" d="M625.8,366 C633,369 643,369 650.6,366 M627.8,373 C634,375.5 642,375.5 648,373 M627.8,384.3 C634,387 642,387 648,384.3 M638.2,368 L638.2,374"/>
<ellipse class="p" cx="638.2" cy="356.0" rx="14.3" ry="8.3" transform="rotate(0.0 638.2 356.0)" />
<ellipse class="w" cx="638.2" cy="356.5" rx="11.0" ry="6.2" transform="rotate(0.0 638.2 356.5)" />
<ellipse class="g" cx="638.2" cy="357.5" rx="7.5" ry="4.2" transform="rotate(0.0 638.2 357.5)" />
<path class="p" d="M561.7,388 L561.7,393 L559.5,396 L559.5,434 C555,440 552.5,450 553,458 C555,464 577,464 579,458 C579.5,450 577,440 572.8,434 L572.8,396 L571.5,393 L571.5,388 Z"/>
<path class="ln" d="M559.5,403 C563,405 569,405 572.8,403 M559.5,396 C563,398 569,398 572.8,396 M559.5,434 C563,436 569,436 572.8,434 M553,458 C557,462 575,462 579,458"/>
<path class="p" d="M553,458 C554,462 556,464 566,464.5 C576,464 578,462 579,458 L579,461 C577,465 556,465 553,461 Z"/>
<path class="p" d="M552,360 L554.2,378 L561.7,388 L571.5,388 L577.7,378 L580,360 Z"/>
<path class="ln" d="M553,370 C560,373 572,373 579,370 M554.2,378 C560,381 572,381 577.7,378"/>
<ellipse class="p" cx="566.0" cy="359.7" rx="14.2" ry="8.2" transform="rotate(0.0 566.0 359.7)" />
<ellipse class="w" cx="566.0" cy="360.2" rx="10.5" ry="5.8" transform="rotate(0.0 566.0 360.2)" />
<ellipse class="g" cx="566.0" cy="361.0" rx="7.0" ry="3.8" transform="rotate(0.0 566.0 361.0)" />
<path class="p" d="M506,395 C500,400 496,410 494,420 C493,428 494,433 498,434 L506,433 L507,436 C512,438 518,438 522,436 L522,395 Z"/>
<path class="ln" d="M506,398 C502,406 499,418 499,428 C499,431 503,431 506,428"/>
<ellipse class="p" cx="514.0" cy="395.0" rx="8.0" ry="4.4" transform="rotate(0.0 514.0 395.0)" />
<ellipse class="g" cx="514.0" cy="395.0" rx="5.0" ry="2.6" transform="rotate(0.0 514.0 395.0)" />
<path class="dd" d="M517,414 L566,414"/>
<ellipse class="p" cx="566.0" cy="476.5" rx="11.8" ry="6.8" transform="rotate(0.0 566.0 476.5)" />
<ellipse class="w" cx="566.0" cy="476.5" rx="8.5" ry="4.6" transform="rotate(0.0 566.0 476.5)" />
<path class="dd" d="M566,464 L566,540"/>
<path class="p" d="M554.2,493.5 L555,506 C559,510 573,510 577,506 L577.7,493.5 Z"/>
<path class="ln" d="M557,501 L557,507 M562,502 L562,509 M570,502 L570,509 M575,501 L575,507 M554.5,500 C560,503 572,503 577.5,500"/>
<ellipse class="dk" cx="566.0" cy="493.5" rx="11.8" ry="6.6" transform="rotate(0.0 566.0 493.5)" style="fill:#3a3a3a"/>
<path class="p" d="M550.5,517.5 L551.5,533 C556,539 576,539 580.5,533 L581.4,517.5 Z"/>
<ellipse class="p" cx="566.0" cy="517.5" rx="15.4" ry="7.2" transform="rotate(0.0 566.0 517.5)" />
<ellipse class="g" cx="566.0" cy="518.0" rx="11.5" ry="5.0" transform="rotate(0.0 566.0 518.0)" />
<ellipse class="w" cx="566.0" cy="519.0" rx="9.5" ry="3.8" transform="rotate(0.0 566.0 519.0)" />
<path class="dd" d="M75,870 L240,772"/>
<g transform="translate(39,884.3) scale(0.86) translate(-29,-217.5)"><path class="p" d="M23.5,197.5 C31,189 43,183 54.7,181.8 L68.3,174.6 C79,171 87,183 87.5,194.3 C87.8,200 86.5,204.5 84.9,205.8 L73.5,212 C72.5,217 70,220.5 68.3,221.4 L36,233.9 C24,233 16.5,222 16.8,208.9 C17,203.5 20,199 23.5,197.5 Z"/>
<path class="ln" d="M54.7,181.8 C66,186 73,200 72.4,212 C72,216 70,220 68.3,221.4"/>
<path class="ln" d="M68.3,174.6 C78,178 85,190 84.9,205.8"/>
<ellipse class="p" cx="29" cy="217.5" rx="12" ry="15.5" transform="rotate(-28 29 217.5)"/>
<path class="ln" d="M36.5,206 L55.5,194.5 L56,195.8 L38,208"/>
<path class="ln" d="M41,224 L63.5,214.5 L63.5,216 L42,226"/>
<path class="ln" d="M25,199.5 L40,188.5"/>
<path class="ln" d="M36,233 L50,228"/></g>
<path class="p" d="M84.7,851 L92,846.8 L102,852 L103.4,858 L99,862.4 L96,860 L98,857 L90,853 L88,856 Z"/>
<path class="ln" d="M90,850 L99,855 M91,852 L100,857"/>
<path class="p" d="M103.4,833 L103.4,816 L108,814.6 L113.8,817 L113.8,833 Z"/>
<path class="p" d="M130,826 L137,822 L143,825 L143,850 L136,854 L130,850 Z"/>
<path class="ln" d="M130,833 L124,830 M137,822 L137,829 L143,832"/>
<path class="p" d="M94,832 C92,829.5 93,828 96,828 L126,845 C129,847 129.5,852 128,855 C126,858 122,857.5 119,856 L95,840 C92,838 92,834 94,832 Z"/>
<circle class="ln" cx="97" cy="834" r="1.3"/><circle class="ln" cx="106" cy="838" r="1.2"/><circle class="ln" cx="122.5" cy="851.5" r="1.3"/><circle class="w" cx="111" cy="842.5" r="2.3"/><circle class="ln" cx="116" cy="843" r="0.9"/>
<path class="ln" d="M119,850 L132,828 L142,826" style="stroke-dasharray:2 1.5"/>
<path class="p" d="M192.1,802.6 L210.2,792.6 C211.7,791.7 211.4,788.1 209.4,784.5 C207.4,780.9 204.5,778.6 203.0,779.4 L184.9,789.4 C183.4,790.3 183.7,793.9 185.7,797.5 C187.7,801.1 190.6,803.4 192.1,802.6 Z" />
<path class="p" d="M147.8,819.8 L191.8,795.3 C192.6,794.9 192.4,793.1 191.4,791.2 C190.4,789.4 188.9,788.3 188.2,788.7 L144.2,813.2 C143.4,813.6 143.6,815.4 144.6,817.3 C145.6,819.1 147.1,820.2 147.8,819.8 Z" /><ellipse class="p" cx="146.0" cy="816.5" rx="1.6" ry="3.8" transform="rotate(-29.1 146.0 816.5)" />
<ellipse class="p" cx="188.5" cy="796.0" rx="3.2" ry="7.5" transform="rotate(-30.0 188.5 796.0)" />
<path class="p" d="M161,799 L164,797 L166.2,817 L163,819.5 Z"/>
<path class="ln" d="M150,812 L158,808" style="stroke-width:1.2"/>
<path class="dd" d="M196,776 L196,786"/>
<path class="dk" d="M193,770 L197,768.5 L200,770.5 L200,775 L196.5,776.5 L193,775 Z" style="fill:#444"/>
<path class="dd" d="M205,784 L214,780"/>
<path class="p" d="M251.8,774.8 L266.3,766.3 C268.8,764.8 268.0,758.8 264.5,752.8 C261.0,746.9 256.2,743.2 253.7,744.7 L239.2,753.2 C236.7,754.7 237.5,760.7 241.0,766.7 C244.5,772.6 249.3,776.3 251.8,774.8 Z" />
<path class="ln" d="M245,751.5 L257,744.5 M251.5,760 L262.5,753.5 M250.5,774.5 L261.5,768 M245.5,754 C249,759 250.5,768 249,777.5"/>
<ellipse class="p" cx="245.5" cy="764.0" rx="5.2" ry="12.5" transform="rotate(-30.0 245.5 764.0)" />
<path class="ln" d="M240,751.5 L246,749 L252,754.5 L252.5,769 L246,775 L240,772"/>
<path class="p" d="M237.8,781.5 L247.6,776.0 C250.7,774.3 250.6,768.4 247.5,762.9 C244.4,757.4 239.4,754.3 236.4,756.0 L226.6,761.5 C223.5,763.2 223.6,769.1 226.7,774.6 C229.8,780.1 234.8,783.2 237.8,781.5 Z" />
<ellipse class="p" cx="232.2" cy="771.5" rx="7.2" ry="11.7" transform="rotate(-30.0 232.2 771.5)" />
<path class="p" d="M214.1,784.1 L234.6,772.9 C235.3,772.5 235.1,770.9 234.2,769.3 C233.3,767.7 232.1,766.7 231.4,767.1 L210.9,778.3 C210.2,778.7 210.4,780.3 211.3,781.9 C212.2,783.5 213.4,784.5 214.1,784.1 Z" /><ellipse class="p" cx="212.5" cy="781.2" rx="1.4" ry="3.3" transform="rotate(-28.6 212.5 781.2)" />
<circle class="dk" cx="227" cy="768" r="0.7"/><circle class="dk" cx="238" cy="775.5" r="0.7"/>
<path class="dd" d="M217,610 L285,653"/>
<path class="g" d="M212.9,610.9 L220.2,615.1 C220.6,615.4 221.5,614.7 222.1,613.7 C222.7,612.6 222.8,611.5 222.4,611.3 L215.1,607.1 C214.7,606.8 213.8,607.5 213.2,608.5 C212.6,609.6 212.5,610.7 212.9,610.9 Z" style="fill:#d5d5d5"/>
<ellipse class="p" cx="212.5" cy="608.3" rx="2.6" ry="4.2" transform="rotate(30.0 212.5 608.3)" />
<path class="g" d="M232.0,613.9 L239.5,617.9 C239.9,618.2 240.7,617.5 241.3,616.4 C241.9,615.4 242.0,614.3 241.5,614.1 L234.0,610.1 C233.6,609.8 232.8,610.5 232.2,611.6 C231.6,612.6 231.5,613.7 232.0,613.9 Z" style="fill:#d5d5d5"/>
<ellipse class="p" cx="231.5" cy="611.3" rx="2.6" ry="4.0" transform="rotate(30.0 231.5 611.3)" />
<path class="p" d="M249.2,621.3 C258,612 272,605 287,604.6 C297,604.5 304.5,610 305.5,618 L306,645 L301.5,645 L301,619 C300,613 295,609.5 287,609.8 C274,610.5 261,617 252.5,625 Z"/>
<ellipse class="p" cx="250.8" cy="623.0" rx="2.2" ry="2.6" transform="rotate(-40.0 250.8 623.0)" />
<path class="p" d="M250,627 L262,634 L275,634 L282,628.5 L283,645 L276,652 L264,651 L250,643 Z"/>
<path class="ln" d="M262,634 L264,651 M275,634 L276,652 M253,636 L261,641 C263,642 263,645 261,645 L253,640.5"/>
<circle class="ln" cx="270" cy="643" r="1.2"/><circle class="ln" cx="279" cy="638" r="1.2"/>
<path class="p" d="M217.9,634.8 C217,632 219,630 222,628.5 L238,621.5 C243,620 246.5,623 245.8,627 L241,633 L232,645 C228,647 222,645 219,640 Z"/>
<path class="g" d="M238.5,621.8 C242,621 245.5,623 245.8,627 C246,630 243,632 240,631.5 C237,630 236,624 238.5,621.8 Z" style="fill:#d0d0d0"/>
<path class="g" d="M245.6,638.7 L235.2,632.6 C233.7,631.7 231.0,633.4 229.3,636.4 C227.5,639.4 227.3,642.6 228.8,643.4 L239.2,649.5 C240.7,650.4 243.4,648.7 245.1,645.7 C246.9,642.7 247.1,639.5 245.6,638.7 Z" style="fill:#d8d8d8"/>
<path class="ln2" d="M243.9,637.6 C242.4,636.8 239.7,638.5 237.9,641.5 C236.2,644.5 236.0,647.6 237.5,648.5"/><path class="ln2" d="M242.1,636.6 C240.6,635.8 238.0,637.5 236.2,640.5 C234.5,643.5 234.2,646.6 235.7,647.5"/><path class="ln2" d="M240.4,635.6 C238.9,634.7 236.2,636.5 234.5,639.5 C232.7,642.5 232.5,645.6 234.0,646.5"/><path class="ln2" d="M238.7,634.6 C237.2,633.7 234.5,635.4 232.7,638.4 C231.0,641.4 230.8,644.6 232.3,645.5"/><path class="ln2" d="M236.9,633.6 C235.4,632.7 232.8,634.4 231.0,637.4 C229.3,640.4 229.0,643.6 230.5,644.5"/>
<ellipse class="p" cx="242.4" cy="644.1" rx="3.4" ry="5.5" transform="rotate(-150.0 242.4 644.1)" />
<ellipse class="ln" cx="242.4" cy="644.1" rx="1.4" ry="2.0" transform="rotate(-150.0 242.4 644.1)" />
<path class="dd" d="M246,650 L272,664"/>
<path class="p" d="M273.5,662.8 L324.5,634.7 L338,642 L338,666 L288,689.9 L273.5,681.6 Z"/>
<path class="ln" d="M273.5,662.8 L287,670.1 L338,642 M287,670.1 L288,689.9"/>
<path class="ln" d="M318,652 L334,643.5 L336,645 L320,654"/>
<ellipse class="p" cx="297.5" cy="677.5" rx="6.6" ry="10.0" transform="rotate(-15.0 297.5 677.5)" />
<ellipse class="w" cx="298.5" cy="677.5" rx="4.8" ry="8.0" transform="rotate(-15.0 298.5 677.5)" />
<circle class="ln" cx="321.4" cy="638.9" r="1.3"/><circle class="dk" cx="314" cy="646.2" r="1"/><circle class="dk" cx="320.3" cy="662.8" r="1"/><circle class="dk" cx="314" cy="667" r="0.8"/><circle class="ln" cx="332.8" cy="662.8" r="1.3"/><circle class="ln" cx="290" cy="688" r="1.2"/>
<path class="p" d="M299,690 L299,829 C299.5,834 301.5,838 304.8,843 C309,851 315,861 322,868.5 C334,882 348,895 364,906 C380,917 396,928 413.5,938.3 C424,945 434,953 443.2,960.6 C452,967 461,972 470.4,978 L473,973.5 C464,968 455,962 446,955.5 C437,948 427,941 416.5,934 C399,923 383,912 367.5,901 C352,890 338,878 326.5,865 C320,858 315,850 310.5,842 C307.5,837 305.5,833 305,829 L305,690 Z"/>
<path class="dd" d="M281,646 L420,716"/>
<path class="dd" d="M305,685 L460,744"/>
<path class="p" d="M344.9,698.3 L327.9,688.8 C325.5,687.4 321.3,690.2 318.6,695.1 C315.9,699.9 315.7,704.9 318.1,706.2 L335.1,715.7 C337.5,717.1 341.7,714.3 344.4,709.4 C347.1,704.6 347.3,699.6 344.9,698.3 Z" />
<path class="p" d="M331.8,700 L350,693.6 C356,694 362,698 361.9,703 L361,714 L346,719.1 C340,719 333,714 332,710 Z"/>
<path class="ln" d="M331.8,700 C338,702 344,705 346,707 L346,719 M346,707 L361.9,701"/>
<ellipse class="g" cx="347.0" cy="698.5" rx="5.0" ry="2.5" transform="rotate(-20.0 347.0 698.5)" />
<path class="p" d="M355.2,713.0 L362.2,709.8 C362.8,709.6 362.7,708.2 362.1,706.8 C361.4,705.4 360.4,704.5 359.8,704.8 L352.8,708.0 C352.2,708.2 352.3,709.6 352.9,711.0 C353.6,712.4 354.6,713.3 355.2,713.0 Z" /><ellipse class="p" cx="354.0" cy="710.5" rx="1.2" ry="2.8" transform="rotate(-24.6 354.0 710.5)" />
<path class="ln" d="M333,712 L331,716 M335,714.5 L334,718"/>
<path class="ln" d="M343.2,625.4 C343,612 345,603 350,601.4 C358,599 366,600 371,605 C375,610 375.5,620 375.5,631.6 L376.5,669 C377,675 383,679 389,679" style="stroke-width:2.2"/>
<path class="w" d="M343.2,625.4 C343,612 345,603 350,601.4 C358,599 366,600 371,605 C375,610 375.5,620 375.5,631.6 L376.5,669 C377,675 383,679 389,679" style="stroke:#fff;stroke-width:0.8;fill:none"/>
<path class="p" d="M387,680 L398,675 L402.5,681 L392,687.8 Z"/>
<path class="ln" d="M389,681 L398,676.5 M390,683 L399,678.5"/>
<path class="ln" d="M343,626 L344.5,694 M348,627 L346.5,694 M343,613 L350,622 L349,628" style="stroke-width:0.9"/>
<path class="p" d="M339,629 L345,626.5 L346.5,631 L341,633.5 Z"/><path class="p" d="M346,628 L352,625.5 L353.5,630 L348,632.5 Z"/>
<path class="ln" d="M345.8,719 L345.8,750 M348.8,719 L348.8,750" style="stroke-width:0.9"/>
<ellipse class="p" cx="346.4" cy="730.5" rx="6.4" ry="3.2" transform="rotate(0.0 346.4 730.5)" />
<ellipse class="w" cx="346.4" cy="730.5" rx="2.5" ry="1.3" transform="rotate(0.0 346.4 730.5)" />
<ellipse class="p" cx="346.4" cy="741.0" rx="6.4" ry="3.5" transform="rotate(0.0 346.4 741.0)" />
<ellipse class="w" cx="346.4" cy="741.0" rx="2.5" ry="1.4" transform="rotate(0.0 346.4 741.0)" />
<path class="p" d="M375.1,715.1 L363.9,720.4 C361.3,721.6 361.0,726.5 363.3,731.2 C365.5,736.0 369.5,738.8 372.1,737.6 L383.3,732.3 C385.9,731.1 386.2,726.2 383.9,721.5 C381.7,716.7 377.7,713.9 375.1,715.1 Z" />
<path class="ring" d="M372.1,716.5 C369.4,717.6 369.0,722.4 371.1,727.3 C373.2,732.1 377.1,735.0 379.7,733.8"/><path class="ring" d="M368.8,717.9 C366.1,719.1 365.7,723.9 367.8,728.7 C369.9,733.5 373.8,736.5 376.4,735.3"/><path class="ring" d="M365.5,719.4 C362.8,720.5 362.4,725.3 364.5,730.2 C366.6,735.0 370.5,737.9 373.1,736.7"/>
<ellipse class="p" cx="379.2" cy="723.7" rx="5.5" ry="8.5" transform="rotate(-25.0 379.2 723.7)" />
<ellipse class="ln" cx="379.5" cy="723.5" rx="1.6" ry="2.1" transform="rotate(-25.0 379.5 723.5)" />
<path class="p" d="M395.5,710 L409,705.5 L413.8,708 L413.8,723 L405,727 L413,730 L412,741 L400,744.6 L396,741 L397,728 L395.5,725 Z"/>
<path class="ln" d="M400,712 L400,726 L408,730 M397,728 L405,727"/>
<circle class="ln" cx="408" cy="712.5" r="1.2"/><circle class="ln" cx="404" cy="736" r="1.2"/>
<path class="g" d="M419.2,731.3 L426.7,734.8 C427.1,735.0 427.8,734.4 428.3,733.4 C428.7,732.4 428.8,731.4 428.3,731.2 L420.8,727.7 C420.4,727.5 419.7,728.1 419.2,729.1 C418.8,730.1 418.7,731.1 419.2,731.3 Z" style="fill:#ddd"/>
<ellipse class="p" cx="428.5" cy="733.5" rx="2.6" ry="3.6" transform="rotate(28.0 428.5 733.5)" />
<path class="g" d="M456.1,743.3 L464.1,747.3 C464.5,747.5 465.3,746.9 465.8,745.9 C466.2,744.9 466.3,743.9 465.9,743.7 L457.9,739.7 C457.5,739.5 456.7,740.1 456.2,741.1 C455.8,742.1 455.7,743.1 456.1,743.3 Z" style="fill:#ddd"/>
<ellipse class="p" cx="466.0" cy="746.0" rx="2.6" ry="3.5" transform="rotate(28.0 466.0 746.0)" />
<path class="p" d="M342.2,778.7 C342,800 341,808 330,822 C315,838 302,848 297,860 C295,866 294.6,870 294.6,880 L294.6,936.3 L306.5,936.3 L306.5,880 C306.5,870 308,862 315,853 C328,838 340,830 348,818 C352,810 352.6,800 352.6,778.7 Z"/>
<path class="g" d="M341,755 L353.7,755 L353.7,779 C350,781 344,781 341,779 Z" style="fill:#cfcfcf"/>
<path class="ln" d="M341,758 L353.7,758 M341,761 L353.7,761 M341,764 L353.7,764 M341,767 L353.7,767 M341,771 L353.7,771 M341,775 L353.7,775"/>
<path class="p" d="M345.5,746.4 L349,746.4 L349,755 L345.5,755 Z"/>
<path class="p" d="M266,868 C260,872 256,880 256,890 C256,898 259,900 263,898 L265,896 L265,909 C270,913 277,913 281.2,909 L281.2,868 Z"/>
<path class="ln" d="M265,872 C261,880 260,888 261,894"/>
<ellipse class="p" cx="273.0" cy="868.0" rx="8.0" ry="4.3" transform="rotate(0.0 273.0 868.0)" />
<ellipse class="g" cx="273.0" cy="868.0" rx="5.5" ry="2.8" transform="rotate(0.0 273.0 868.0)" />
<path class="dd" d="M281.2,885.8 L300.6,875.4"/>
<path class="p" d="M294.6,948.2 L309.5,948.2 L309.5,963 L294.6,963 Z"/>
<path class="ln" d="M294.6,952 L309.5,952 M294.6,956 L309.5,956 M294.6,960 L309.5,960"/>
<path class="p" d="M293,936.3 L311,936.3 L311,948.2 C306,950 298,950 293,948.2 Z"/>
<path class="ln" d="M293,941 C298,943 306,943 311,941"/>
<ellipse class="p" cx="301.3" cy="969.0" rx="9.7" ry="4.5" transform="rotate(0.0 301.3 969.0)" />
<ellipse class="w" cx="301.3" cy="969.0" rx="6.5" ry="2.8" transform="rotate(0.0 301.3 969.0)" />
<path class="ln" d="M299.5,965 L299.5,976 M303,965 L303,976"/>
<ellipse class="p" cx="301.3" cy="984.0" rx="8.3" ry="4.5" transform="rotate(0.0 301.3 984.0)" />
<ellipse class="w" cx="301.3" cy="984.0" rx="5.5" ry="2.8" transform="rotate(0.0 301.3 984.0)" />
<path class="dd" d="M300.6,991.4 L340.7,991.4 L340.7,998"/>
<path class="p" d="M290.8,998 C288.8,1008 290.3,1020 295.3,1027 C298.3,1031 304.3,1031 307.3,1027 C312.3,1020 313.8,1008 311.8,998 Z"/>
<ellipse class="p" cx="301.3" cy="998.0" rx="10.5" ry="4.5" transform="rotate(0.0 301.3 998.0)" />
<ellipse class="w" cx="301.3" cy="998.5" rx="7.5" ry="3.0" transform="rotate(0.0 301.3 998.5)" />
<path class="ln" d="M290.8,1003 C296.3,1006 306.3,1006 311.8,1003 M297.3,1018 L301.3,1021 L300.3,1019"/>
<path class="p" d="M329.5,998 C327.5,1008 329,1020 334,1027 C337,1031 343,1031 346,1027 C351,1020 352.5,1008 350.5,998 Z"/>
<ellipse class="p" cx="340.0" cy="998.0" rx="10.5" ry="4.5" transform="rotate(0.0 340.0 998.0)" />
<ellipse class="w" cx="340.0" cy="998.5" rx="7.5" ry="3.0" transform="rotate(0.0 340.0 998.5)" />
<path class="ln" d="M329.5,1003 C335,1006 345,1006 350.5,1003 M336,1018 L340,1021 L339,1019"/>
<path class="p" d="M438.5,659.8 C434,664 432.4,668 432.4,671.9 C432.4,676 432.8,680 433.4,684 C434.5,690 440,695 443.6,700.7 C445,706 442,711 439,713.8 L429.7,719.4 L433.4,720.8 L442.7,713.8 C446,711 447.5,706 446.4,700.7 C444,694 438.5,689 438,684 C437.5,680 437.1,676 437.1,671.9 C437.1,668 439,664.5 442.7,661.6 Z"/>
<ellipse class="p" cx="431.5" cy="720.0" rx="2.2" ry="1.8" transform="rotate(30.0 431.5 720.0)" />
<path class="g" d="M463.4,659.0 L479.2,665.8 C480.6,666.4 482.9,664.2 484.3,660.9 C485.7,657.6 485.8,654.4 484.4,653.8 L468.6,647.0 C467.2,646.4 464.9,648.6 463.5,651.9 C462.1,655.2 462.0,658.4 463.4,659.0 Z" style="fill:#d0d0d0"/>
<path class="ln2" d="M468.0,660.8 C469.4,661.4 471.7,659.3 473.2,656.0 C474.6,652.7 474.7,649.5 473.3,648.9"/><path class="ln2" d="M470.0,661.7 C471.4,662.3 473.7,660.1 475.1,656.8 C476.6,653.5 476.6,650.4 475.3,649.8"/><path class="ln2" d="M472.0,662.5 C473.4,663.2 475.7,661.0 477.1,657.7 C478.5,654.4 478.6,651.3 477.2,650.7"/><path class="ln2" d="M473.9,663.4 C475.3,664.0 477.6,661.9 479.1,658.6 C480.5,655.3 480.6,652.1 479.2,651.5"/><path class="ln2" d="M475.9,664.3 C477.3,664.9 479.6,662.7 481.0,659.4 C482.5,656.1 482.5,653.0 481.2,652.4"/>
<ellipse class="p" cx="478.5" cy="658.6" rx="2.5" ry="5.0" transform="rotate(-150.0 478.5 658.6)" />
<ellipse class="ln" cx="478.5" cy="658.6" rx="1.0" ry="1.6" transform="rotate(-150.0 478.5 658.6)" />
<path class="p" d="M450.2,664.4 L466.1,656.0 C467.4,655.3 467.1,652.3 465.5,649.3 C463.9,646.3 461.6,644.3 460.3,645.0 L444.4,653.4 C443.1,654.1 443.4,657.1 445.0,660.1 C446.6,663.1 448.9,665.1 450.2,664.4 Z" />
<path class="p" d="M461,644.5 L464,644 C468,647 470.5,651 470,655 L466,660 L461,657.5 Z"/>
<path class="ln" d="M463.2,644 L463.2,657"/>
<ellipse class="p" cx="447.3" cy="658.9" rx="4.2" ry="6.2" transform="rotate(-30.0 447.3 658.9)" />
<ellipse class="g" cx="447.3" cy="658.9" rx="2.6" ry="3.8" transform="rotate(-30.0 447.3 658.9)" />
<ellipse class="ln" cx="447.5" cy="658.7" rx="1.0" ry="1.4" transform="rotate(-30.0 447.5 658.7)" />
<path class="ln" d="M551,664 L579,679 L593.8,686 M532,673 L551,664 M532,673 L558.7,692 L593.8,673 M593.8,668 L593.8,690.6 M593.8,668 L640,693.7 L640,743.6 M616.5,704.6 L657,725 L657,743.6 M616.5,704.6 L616.5,711 L650,731 L657,727" style="stroke-width:0.85"/>
<circle class="ln" cx="636" cy="722" r="2"/><circle class="ln" cx="545" cy="677" r="1.2"/><circle class="ln" cx="596" cy="671" r="1"/>
<path class="ln" d="M574,722 L574,742 M582.4,723 L582.4,742 M593,735 L593,745 M629,700 L629,745" style="stroke-dasharray:3 1.5"/>
<path class="g" d="M542.5,656.5 L542.5,664.5 C542.5,664.9 543.4,665.3 544.5,665.3 C545.6,665.3 546.5,664.9 546.5,664.5 L546.5,656.5 C546.5,656.1 545.6,655.7 544.5,655.7 C543.4,655.7 542.5,656.1 542.5,656.5 Z" style="fill:#ddd"/>
<ellipse class="p" cx="544.5" cy="655.0" rx="4.2" ry="2.8" transform="rotate(0.0 544.5 655.0)" />
<path class="dd" d="M544.5,665.5 L544.5,679.5"/>
<path class="g" d="M636.3,668.5 L636.3,676.5 C636.3,676.9 637.2,677.3 638.3,677.3 C639.4,677.3 640.3,676.9 640.3,676.5 L640.3,668.5 C640.3,668.1 639.4,667.7 638.3,667.7 C637.2,667.7 636.3,668.1 636.3,668.5 Z" style="fill:#ddd"/>
<ellipse class="p" cx="638.3" cy="667.0" rx="4.2" ry="2.8" transform="rotate(0.0 638.3 667.0)" />
<path class="dd" d="M638.3,677.5 L638.3,691.5"/>
<ellipse class="p" cx="578.0" cy="686.3" rx="4.0" ry="4.3" transform="rotate(-20.0 578.0 686.3)" /><ellipse class="ln" cx="578.0" cy="686.3" rx="1.8" ry="2.0" transform="rotate(-20.0 578.0 686.3)" />
<ellipse class="g" cx="585.2" cy="681.5" rx="3.0" ry="3.6" transform="rotate(-20.0 585.2 681.5)" />
<ellipse class="p" cx="616.4" cy="707.7" rx="4.6" ry="4.0" transform="rotate(-20.0 616.4 707.7)" /><ellipse class="ln" cx="616.4" cy="707.7" rx="2.0" ry="1.7" transform="rotate(-20.0 616.4 707.7)" />
<ellipse class="g" cx="623.9" cy="703.5" rx="3.2" ry="3.6" transform="rotate(-20.0 623.9 703.5)" />
<path class="dd" d="M588,680 L598,676 M627,702 L640,696"/>
<path class="p" d="M475.5,691.0 L489.2,683.7 L522.0,694.7 L522.0,720.4 L502.0,727.7 L475.5,716.7 Z"/>
<path class="ln" d="M475.5,691.0 L502.0,702.0 L522.0,694.7 M502.0,702.0 L502.0,727.7"/>
<path class="ln" d="M474,699 L470.5,699 L470.5,705 L474,706"/>
<path class="p" d="M481.9,660 L494.6,654.6 L519.2,668.3 L520,682 L507.4,689.2 L482.5,676 Z"/>
<path class="ln" d="M481.9,660 L507.4,674.6 L519.2,668.3 M507.4,674.6 L507.4,689.2 M487,662 L487,677 M492,664.5 L492,680 M497,667 L497,683"/>
<ellipse class="g" cx="513.8" cy="678.3" rx="3.4" ry="4.4" transform="rotate(-15.0 513.8 678.3)" />
<ellipse class="dk" cx="513.8" cy="678.3" rx="1.8" ry="2.4" transform="rotate(-15.0 513.8 678.3)" />
<circle class="g" cx="507" cy="661" r="1.4"/><circle class="g" cx="497" cy="670" r="1.3"/>
<path class="p" d="M490,683 C490,679 494,677 497,678.5 L499,686 C497,689 492,689 490,687 Z"/>
<path class="g" d="M540.6,695.8 L556.4,688.8 C557.7,688.2 557.6,685.1 556.2,681.9 C554.8,678.7 552.6,676.6 551.2,677.2 L535.4,684.2 C534.1,684.8 534.2,687.9 535.6,691.1 C537.0,694.3 539.2,696.4 540.6,695.8 Z" style="fill:#e0e0e0"/>
<path class="ln2" d="M543.2,694.6 C544.5,694.0 544.5,690.9 543.1,687.8 C541.6,684.6 539.4,682.5 538.1,683.1"/><path class="ln2" d="M545.8,693.4 C547.2,692.8 547.1,689.8 545.7,686.6 C544.3,683.4 542.1,681.3 540.7,681.9"/><path class="ln2" d="M548.5,692.3 C549.8,691.7 549.7,688.6 548.3,685.4 C546.9,682.2 544.7,680.1 543.3,680.7"/><path class="ln2" d="M551.1,691.1 C552.4,690.5 552.4,687.4 551.0,684.3 C549.5,681.1 547.3,679.0 546.0,679.6"/><path class="ln2" d="M553.7,689.9 C555.1,689.3 555.0,686.3 553.6,683.1 C552.2,679.9 550.0,677.8 548.6,678.4"/>
<path class="p" d="M534.7,700.9 L542.7,696.9 C544.4,696.1 544.2,692.0 542.1,687.9 C540.1,683.8 537.0,681.2 535.3,682.1 L527.3,686.1 C525.6,686.9 525.8,691.0 527.9,695.1 C529.9,699.2 533.0,701.8 534.7,700.9 Z" />
<path class="g" d="M527.4,702.7 L534.7,699.2 C536.0,698.5 535.9,695.5 534.4,692.4 C532.9,689.2 530.6,687.2 529.3,687.8 L522.0,691.3 C520.7,692.0 520.8,695.0 522.3,698.1 C523.8,701.3 526.1,703.3 527.4,702.7 Z" style="fill:#d0d0d0"/>
<path class="ln2" d="M529.2,701.8 C530.6,701.2 530.4,698.1 528.9,695.0 C527.4,691.8 525.1,689.8 523.8,690.4"/><path class="ln2" d="M531.1,700.9 C532.4,700.3 532.2,697.2 530.7,694.1 C529.2,691.0 526.9,688.9 525.6,689.6"/><path class="ln2" d="M532.9,700.1 C534.2,699.4 534.1,696.4 532.6,693.2 C531.1,690.1 528.8,688.1 527.5,688.7"/>
<path class="p" d="M566.4,713.6 L578.4,719.6 C579.2,720.0 580.5,718.9 581.3,717.2 C582.2,715.4 582.3,713.7 581.6,713.4 L569.6,707.4 C568.8,707.0 567.5,708.1 566.7,709.8 C565.8,711.6 565.7,713.3 566.4,713.6 Z" />
<path class="p" d="M551.4,711.8 L564.9,718.8 C566.9,719.8 570.3,717.1 572.5,712.8 C574.8,708.5 575.0,704.2 573.1,703.2 L559.6,696.2 C557.6,695.2 554.2,697.9 552.0,702.2 C549.7,706.5 549.5,710.8 551.4,711.8 Z" />
<path class="ln" d="M559,697 L556,712 M566,700.5 L563,716"/>
<ellipse class="p" cx="555.5" cy="704.0" rx="4.0" ry="8.8" transform="rotate(27.0 555.5 704.0)" />
<path class="p" d="M578.4,728.3 L591.4,735.5 C593.5,736.7 597.2,733.9 599.7,729.3 C602.3,724.7 602.7,720.0 600.6,718.9 L587.6,711.7 C585.5,710.5 581.8,713.3 579.3,717.9 C576.7,722.5 576.3,727.2 578.4,728.3 Z" />
<path class="ln" d="M587,713 L584,728 M592,716 L589.5,732"/>
<ellipse class="p" cx="596.0" cy="727.2" rx="4.5" ry="9.5" transform="rotate(27.0 596.0 727.2)" />
<ellipse class="w" cx="596.3" cy="727.2" rx="3.0" ry="6.0" transform="rotate(27.0 596.3 727.2)" />
<ellipse class="p" cx="604.3" cy="717.8" rx="3.2" ry="4.5" transform="rotate(-15.0 604.3 717.8)" /><ellipse class="w" cx="604.3" cy="717.8" rx="1.8" ry="3.0" transform="rotate(-15.0 604.3 717.8)" />
<path class="dd" d="M600,735 L606,738"/>
<path class="g" d="M602.3,739.4 L611.3,743.9 C612.6,744.5 614.8,742.6 616.3,739.6 C617.7,736.7 617.9,733.8 616.7,733.1 L607.7,728.6 C606.4,728.0 604.2,729.9 602.7,732.9 C601.3,735.8 601.1,738.7 602.3,739.4 Z" style="fill:#d5d5d5"/>
<path class="ln2" d="M604.6,740.5 C605.8,741.1 608.0,739.2 609.5,736.3 C611.0,733.3 611.2,730.4 609.9,729.8"/><path class="ln2" d="M606.8,741.6 C608.1,742.2 610.3,740.3 611.8,737.4 C613.2,734.4 613.4,731.5 612.2,730.9"/><path class="ln2" d="M609.1,742.7 C610.3,743.4 612.5,741.5 614.0,738.5 C615.5,735.5 615.7,732.6 614.4,732.0"/>
<path class="p" d="M609.1,745.3 L616.6,749.3 C618.3,750.2 621.4,747.7 623.6,743.6 C625.7,739.6 626.1,735.6 624.4,734.7 L616.9,730.7 C615.2,729.8 612.1,732.3 609.9,736.4 C607.8,740.4 607.4,744.4 609.1,745.3 Z" />
<path class="ln" d="M616,731 L613.5,746 M620,733 L617.5,748"/>
<path class="g" d="M617.5,747.8 L628.0,753.3 C629.3,754.0 631.8,751.9 633.4,748.8 C635.1,745.6 635.4,742.4 634.0,741.7 L623.5,736.2 C622.2,735.5 619.7,737.6 618.1,740.7 C616.4,743.9 616.1,747.1 617.5,747.8 Z" style="fill:#d5d5d5"/>
<path class="ln2" d="M619.6,748.9 C620.9,749.6 623.4,747.5 625.0,744.4 C626.7,741.2 627.0,738.0 625.6,737.3"/><path class="ln2" d="M621.7,750.0 C623.0,750.7 625.5,748.6 627.1,745.5 C628.8,742.3 629.1,739.1 627.7,738.4"/><path class="ln2" d="M623.8,751.1 C625.1,751.8 627.6,749.7 629.2,746.6 C630.9,743.4 631.2,740.2 629.8,739.5"/><path class="ln2" d="M625.9,752.2 C627.2,752.9 629.7,750.8 631.3,747.7 C633.0,744.5 633.3,741.3 631.9,740.6"/>
<ellipse class="p" cx="631.0" cy="747.5" rx="2.8" ry="6.5" transform="rotate(27.0 631.0 747.5)" />
<ellipse class="ln" cx="631.0" cy="747.5" rx="1.2" ry="2.2" transform="rotate(27.0 631.0 747.5)" />
<path class="dd" d="M633,655 L618,663"/>
<path class="p" d="M641.7,654.9 L649.7,650.4 C650.6,649.9 650.4,647.7 649.1,645.6 C647.9,643.4 646.2,642.1 645.3,642.6 L637.3,647.1 C636.4,647.6 636.6,649.8 637.9,651.9 C639.1,654.1 640.8,655.4 641.7,654.9 Z" />
<ellipse class="p" cx="647.5" cy="646.5" rx="2.2" ry="5.8" transform="rotate(-30.0 647.5 646.5)" />
<path class="ln" d="M648.5,644 L651.5,642.5 M649,648 L652,646.5"/>
<path class="g" d="M634.4,656.1 L640.9,652.6 C641.2,652.4 641.1,651.5 640.7,650.6 C640.2,649.8 639.5,649.2 639.1,649.4 L632.6,652.9 C632.3,653.1 632.4,654.0 632.8,654.9 C633.3,655.7 634.0,656.3 634.4,656.1 Z" style="fill:#bbb"/><ellipse class="g" cx="633.5" cy="654.5" rx="0.8" ry="1.8" transform="rotate(-28.3 633.5 654.5)" />
<path class="dd" d="M671.5,676 L656.5,684"/>
<path class="p" d="M680.2,675.9 L688.2,671.4 C689.1,670.9 688.9,668.7 687.6,666.6 C686.4,664.4 684.7,663.1 683.8,663.6 L675.8,668.1 C674.9,668.6 675.1,670.8 676.4,672.9 C677.6,675.1 679.3,676.4 680.2,675.9 Z" />
<ellipse class="p" cx="686.0" cy="667.5" rx="2.2" ry="5.8" transform="rotate(-30.0 686.0 667.5)" />
<path class="ln" d="M687.0,665 L690.0,663.5 M687.5,669 L690.5,667.5"/>
<path class="g" d="M672.9,677.1 L679.4,673.6 C679.7,673.4 679.6,672.5 679.2,671.6 C678.7,670.8 678.0,670.2 677.6,670.4 L671.1,673.9 C670.8,674.1 670.9,675.0 671.3,675.9 C671.8,676.7 672.5,677.3 672.9,677.1 Z" style="fill:#bbb"/><ellipse class="g" cx="672.0" cy="675.5" rx="0.8" ry="1.8" transform="rotate(-28.3 672.0 675.5)" />
<path class="p" d="M632.0,780.0 L646.0,772.0 L675.4,782.0 L675.4,807.0 L655.0,815.0 L632.0,805.0 Z"/>
<path class="ln" d="M632.0,780.0 L655.0,790.0 L675.4,782.0 M655.0,790.0 L655.0,815.0"/>
<path class="ln" d="M660,795 L666,792 L666,800 L660,803 M668,798 L672,800"/>
<path class="p" d="M634.4,750 L647,744.3 L670.7,756 L670.7,770 L656,777 L634.4,765 Z"/>
<path class="ln" d="M634.4,750 L656,762.5 L670.7,756 M656,762.5 L656,777 M640,753 L640,768 M645,755.5 L645,771"/>
<ellipse class="g" cx="663.5" cy="767.0" rx="3.2" ry="4.2" transform="rotate(-15.0 663.5 767.0)" /><ellipse class="dk" cx="663.5" cy="767.0" rx="1.6" ry="2.2" transform="rotate(-15.0 663.5 767.0)" />
<path class="p" d="M643,772 C643,768 648,767 651,769 L652,778 C650,780 645,780 643,778 Z"/>
<path class="p" d="M675.4,731.6 C675.4,724 681,720.6 689.6,720.6 C698,720.6 703.9,724 703.9,731.6 L703.9,768 L698.8,768 L698.8,734.8 C698.8,729.5 695,726.9 689.6,726.9 C684.5,726.9 681.2,729.5 681.2,734.8 L681.7,889.7 L681.2,984.6 C681,998 676,1010 665,1018 C652,1028 640,1032 625,1032 C608,1032 596,1024 589,1012 C584,1002 582.5,992 582.5,981 L588.5,981 C588.5,991 590,1000 594,1008 C600,1018 610,1026 625,1026 C638,1026 648,1022 660,1013.5 C670,1006 675.3,996 675.4,984.6 L675.4,889.7 Z"/>
<ellipse class="p" cx="701.3" cy="768.0" rx="2.6" ry="1.4" transform="rotate(0.0 701.3 768.0)" />
<path class="p" d="M693,773 L706,767 C709.5,768 709.5,772 708.6,774 L708.6,791 C706,794 702,795 699,792 L693,789 Z"/>
<ellipse class="p" cx="701.5" cy="771.0" rx="5.5" ry="3.0" transform="rotate(-20.0 701.5 771.0)" /><ellipse class="g" cx="701.5" cy="771.0" rx="2.8" ry="1.5" transform="rotate(-20.0 701.5 771.0)" />
<path class="g" d="M687.8,788.0 L695.3,784.5 C696.5,783.9 696.4,781.3 695.1,778.5 C693.8,775.8 691.8,774.0 690.7,774.5 L683.2,778.0 C682.0,778.6 682.1,781.2 683.4,784.0 C684.7,786.7 686.7,788.5 687.8,788.0 Z" style="fill:#ddd"/>
<path class="ln2" d="M689.7,787.1 C690.9,786.6 690.8,783.9 689.5,781.1 C688.2,778.4 686.2,776.6 685.0,777.1"/><path class="ln2" d="M691.6,786.2 C692.7,785.7 692.6,783.0 691.3,780.3 C690.1,777.5 688.1,775.7 686.9,776.3"/><path class="ln2" d="M693.5,785.4 C694.6,784.8 694.5,782.2 693.2,779.4 C691.9,776.6 690.0,774.9 688.8,775.4"/>
<ellipse class="p" cx="685.5" cy="783.0" rx="2.5" ry="5.5" transform="rotate(-25.0 685.5 783.0)" />
<path class="p" d="M652.4,825.7 L652.3,827.0 L652.2,828.8 L652.2,830.8 L652.0,832.9 L651.8,835.1 L651.6,837.2 L651.2,839.1 L650.6,840.7 L649.9,842.3 L649.0,844.1 L648.0,845.8 L646.9,847.5 L645.8,848.9 L644.6,850.2 L643.5,851.1 L642.5,851.7 L641.2,852.2 L639.7,852.5 L638.0,852.7 L636.2,852.7 L634.5,852.5 L632.8,852.2 L631.2,851.6 L629.9,851.0 L628.7,850.1 L627.5,848.8 L626.3,847.3 L625.0,845.4 L623.8,843.4 L622.6,841.2 L621.4,838.8 L620.3,836.5 L619.2,834.1 L618.2,831.4 L617.2,828.6 L616.2,825.7 L615.3,822.6 L614.4,819.6 L613.4,816.6 L612.4,813.8 L611.4,811.1 L610.4,808.4 L609.5,805.8 L608.5,803.2 L607.5,800.7 L606.4,798.2 L605.4,795.7 L604.2,793.4 L603.1,791.2 L602.0,789.0 L600.8,786.9 L599.6,784.8 L598.2,782.8 L596.8,780.8 L595.2,779.0 L593.4,777.3 L591.4,775.7 L589.3,774.3 L587.1,773.0 L584.8,771.8 L582.4,770.8 L580.1,770.0 L577.8,769.4 L575.5,768.9 L573.2,768.8 L570.9,768.9 L568.7,769.2 L566.5,769.7 L564.5,770.3 L562.6,771.1 L560.8,772.0 L559.1,773.0 L557.4,774.2 L555.9,775.6 L554.5,777.1 L553.3,778.6 L552.3,780.1 L551.4,781.6 L550.5,783.0 L549.8,784.3 L549.1,785.8 L548.6,787.3 L548.2,788.7 L548.0,790.0 L547.8,791.2 L547.6,792.1 L547.6,792.8 L547.5,793.3 L554.5,794.7 L554.7,794.0 L554.8,793.1 L554.9,792.2 L555.0,791.2 L555.2,790.3 L555.5,789.4 L555.8,788.5 L556.2,787.7 L556.8,786.6 L557.5,785.3 L558.3,784.1 L559.2,782.8 L560.1,781.7 L561.0,780.6 L561.9,779.7 L562.9,779.0 L564.1,778.4 L565.5,777.7 L566.9,777.1 L568.5,776.6 L570.0,776.3 L571.6,776.0 L573.1,776.0 L574.5,776.1 L576.1,776.4 L577.9,776.9 L579.8,777.5 L581.7,778.4 L583.6,779.3 L585.5,780.4 L587.1,781.5 L588.6,782.7 L589.9,784.0 L591.2,785.4 L592.3,786.9 L593.4,788.6 L594.5,790.5 L595.6,792.4 L596.7,794.5 L597.8,796.6 L598.8,798.8 L599.8,801.0 L600.8,803.3 L601.8,805.8 L602.7,808.3 L603.7,810.9 L604.6,813.6 L605.6,816.2 L606.6,818.9 L607.5,821.8 L608.4,824.8 L609.4,827.8 L610.4,830.9 L611.4,833.9 L612.5,836.8 L613.7,839.5 L615.0,842.0 L616.2,844.5 L617.6,847.0 L619.0,849.3 L620.5,851.5 L622.1,853.6 L624.0,855.5 L626.1,857.0 L628.4,858.2 L630.8,859.1 L633.3,859.6 L635.9,859.9 L638.4,859.9 L640.9,859.6 L643.3,859.1 L645.5,858.3 L647.7,857.0 L649.6,855.4 L651.3,853.6 L652.8,851.7 L654.2,849.6 L655.4,847.5 L656.4,845.4 L657.4,843.3 L658.1,841.0 L658.7,838.4 L659.0,835.9 L659.2,833.4 L659.3,831.1 L659.4,829.1 L659.5,827.5 L659.6,826.3 Z"/><ellipse class="p" cx="551.0" cy="794.0" rx="2.2" ry="3.6" transform="rotate(100.6 551.0 794.0)" />
<ellipse class="p" cx="656.0" cy="826.0" rx="3.6" ry="1.8" transform="rotate(-5.0 656.0 826.0)" />
<path class="p" d="M537.8,794.6 L537.0,793.6 L535.9,792.3 L534.6,790.8 L533.1,789.1 L531.5,787.2 L530.0,785.4 L528.4,783.5 L526.9,781.7 L525.5,779.8 L523.9,777.9 L522.3,775.9 L520.8,773.9 L519.3,771.9 L517.8,769.9 L516.4,767.9 L515.2,766.0 L514.0,764.1 L512.9,762.1 L511.8,760.2 L510.8,758.3 L509.9,756.3 L509.0,754.4 L508.2,752.5 L507.5,750.7 L506.9,748.9 L506.4,746.9 L505.9,744.8 L505.4,742.8 L505.0,740.8 L504.7,739.0 L504.4,737.4 L504.2,736.2 L496.8,737.8 L497.1,738.9 L497.3,740.4 L497.7,742.2 L498.1,744.2 L498.5,746.5 L499.1,748.8 L499.7,751.1 L500.5,753.3 L501.3,755.4 L502.2,757.4 L503.1,759.5 L504.1,761.6 L505.2,763.7 L506.3,765.8 L507.6,767.9 L508.8,770.0 L510.2,772.1 L511.7,774.2 L513.2,776.4 L514.8,778.5 L516.4,780.5 L518.0,782.5 L519.6,784.5 L521.1,786.3 L522.6,788.2 L524.2,790.2 L525.8,792.1 L527.4,793.9 L528.9,795.7 L530.2,797.2 L531.3,798.5 L532.2,799.4 Z"/><ellipse class="p" cx="500.5" cy="737.0" rx="2.2" ry="3.8" transform="rotate(-101.7 500.5 737.0)" />
<path class="p" d="M534,803 L540,801 L546,818 L550,803 L556,804 L550,825 L549.5,833 L541,833 L540.5,825 Z"/>
<path class="ln" d="M535,807 L541,805 M536,811 L542,809 M551,807 L555.5,808 M550.5,811 L555,812"/>
<path class="p" d="M541,833 L549.5,833 L549.5,850 L541,850 Z"/>
<path class="ln" d="M541,838 L549.5,838 M541,842 L549.5,842 M541,846 L549.5,846"/>
<path class="p" d="M539.8,856.7 L539.7,857.9 L539.6,859.5 L539.5,861.4 L539.4,863.4 L539.2,865.4 L539.0,867.5 L538.7,869.4 L538.4,871.1 L537.9,872.8 L537.4,874.4 L536.8,876.1 L536.2,877.7 L535.5,879.3 L534.7,880.9 L533.8,882.4 L532.9,883.9 L531.8,885.4 L530.4,887.1 L528.8,888.8 L527.2,890.5 L525.6,892.1 L524.1,893.6 L522.8,894.9 L521.8,895.9 L527.2,901.1 L528.1,900.2 L529.3,899.0 L530.9,897.5 L532.6,895.7 L534.3,893.9 L536.1,892.0 L537.7,890.0 L539.1,888.1 L540.3,886.2 L541.3,884.4 L542.2,882.5 L543.1,880.6 L543.8,878.7 L544.5,876.8 L545.1,874.9 L545.6,872.9 L546.1,870.7 L546.4,868.4 L546.7,866.1 L546.9,863.9 L547.0,861.8 L547.1,859.9 L547.2,858.4 L547.2,857.3 Z"/><ellipse class="p" cx="524.5" cy="898.5" rx="2.2" ry="3.8" transform="rotate(134.1 524.5 898.5)" />
<path class="ln" d="M521,902 L521,912 M512.8,909 L521,915.3 L529.7,909 M515,909.5 L527,909.5 M517,912 L525,912"/>
<path class="p" d="M441.2,834.6 L441.2,872 C446,878 462,878 468.5,872 L468.5,834.6 Z"/>
<path class="p" d="M434.7,816.4 L455.5,804.6 L486.8,822.9 L486.8,843 L466,852.8 L466,846 L455,846 L446,840 L434.7,834 Z"/>
<path class="ln" d="M434.7,816.4 L466,834.6 L486.8,822.9 M466,834.6 L466,852.8"/>
<ellipse class="w" cx="454.0" cy="813.5" rx="5.5" ry="3.5" transform="rotate(0.0 454.0 813.5)" />
<circle class="ln" cx="441" cy="827" r="0.8"/><circle class="ln" cx="455" cy="831" r="0.8"/>
<path class="ln" d="M445,876 L445,898 M448,876 L448,898 M459,876 L459,888 M462,876 L462,888"/>
<path class="p" d="M441.2,897 L453,897 L453,918 L441.2,918 Z"/><path class="p" d="M456.8,886.7 L468.5,886.7 L468.5,910 L456.8,910 Z"/>
<path class="ln" d="M443,900 L443,916 M458.5,889 L458.5,908"/>
<path class="dd" d="M455,876 L455,1000"/>
<path class="dd" d="M466,823 L477,817"/>
<path class="p" d="M397,850 L431,831 L432.5,834 L398.5,853 Z"/>
<path class="ln" d="M403,845.5 L405,849.5 M407,843 L409,847 M411,841 L413,845 M415,839 L417,843 M419,837 L421,841 M423,835 L425,839"/>
<ellipse class="p" cx="393.5" cy="853.0" rx="3.2" ry="4.0" transform="rotate(-30.0 393.5 853.0)" />
<ellipse class="p" cx="482.3" cy="800.0" rx="4.5" ry="5.5" transform="rotate(-25.0 482.3 800.0)" /><ellipse class="g" cx="482.3" cy="800.0" rx="1.5" ry="1.8" transform="rotate(-25.0 482.3 800.0)" />
<ellipse class="p" cx="505.0" cy="787.0" rx="4.5" ry="5.5" transform="rotate(-25.0 505.0 787.0)" /><ellipse class="g" cx="505.0" cy="787.0" rx="1.5" ry="1.8" transform="rotate(-25.0 505.0 787.0)" />
<path class="dd" d="M487,797 L512,783"/>
<path class="p" d="M492,792 C492,789 496,788 497.5,791 L497,880 C499,882 499,886 496,886 C493,886 492,883 494,880 Z"/>
<ellipse class="w" cx="495.0" cy="791.0" rx="2.5" ry="2.5" transform="rotate(0.0 495.0 791.0)" /><ellipse class="w" cx="495.5" cy="883.0" rx="1.8" ry="1.8" transform="rotate(0.0 495.5 883.0)" />
<path class="p" d="M476,855 C476,875 477,893 480,905 C484,918 494,928 510,930 C517,931 523,930 529.5,928.3 L527.5,922 C521,924 516,924.5 511,924 C499,922 490,914 486.5,903 C484,892 483,875 483,855 Z"/>
<ellipse class="p" cx="479.5" cy="855.0" rx="3.5" ry="2.0" transform="rotate(0.0 479.5 855.0)" />
<path class="p" d="M440,952 L440,978 C446,986 464,986 469.8,978 L469.8,952 Z"/>
<ellipse class="p" cx="454.9" cy="952.0" rx="15.0" ry="7.0" transform="rotate(0.0 454.9 952.0)" />
<ellipse class="w" cx="454.9" cy="952.0" rx="12.0" ry="5.3" transform="rotate(0.0 454.9 952.0)" />
<path class="p" d="M446,946 C446,938 452,935 457,936 C461,937 463,941 462,946 Z"/>
<path class="p" d="M409,973 L427,965 L428,968 L410,976 Z"/><ellipse class="p" cx="407.5" cy="975.0" rx="2.6" ry="3.2" transform="rotate(-30.0 407.5 975.0)" />
<path class="ln" d="M413,970 L414,974 M417,968.5 L418,972.5 M421,967 L422,971"/>
<ellipse class="p" cx="461.5" cy="947.0" rx="3.6" ry="4.5" transform="rotate(-25.0 461.5 947.0)" /><ellipse class="w" cx="461.5" cy="947.0" rx="1.5" ry="1.8" transform="rotate(-25.0 461.5 947.0)" />
<ellipse class="g" cx="471.0" cy="942.0" rx="3.0" ry="3.8" transform="rotate(-25.0 471.0 942.0)" /><ellipse class="w" cx="471.0" cy="942.0" rx="1.2" ry="1.5" transform="rotate(-25.0 471.0 942.0)" />
<ellipse class="p" cx="480.0" cy="937.0" rx="3.5" ry="4.2" transform="rotate(-25.0 480.0 937.0)" /><ellipse class="ln" cx="480.0" cy="937.0" rx="1.4" ry="1.6" transform="rotate(-25.0 480.0 937.0)" />
<path class="dd" d="M462,946 L497,927"/>
<path class="p" d="M470,972 C490,983 510,994 536.25,996 C548,996 558,990 572,970 L575.5,973 C562,993 550,1002 536,1002 C508,1000 488,990 468,978 Z"/>
<path class="g" d="M542.5,927.4 L553.1,921.9 C554.3,921.3 554.0,918.6 552.7,915.9 C551.3,913.2 549.2,911.5 548.1,912.1 L537.5,917.6 C536.3,918.2 536.6,920.9 537.9,923.6 C539.3,926.3 541.4,928.0 542.5,927.4 Z" style="fill:#ddd"/>
<path class="ln2" d="M544.7,926.3 C545.8,925.7 545.6,923.0 544.2,920.3 C542.8,917.6 540.7,915.9 539.6,916.5"/><path class="ln2" d="M546.8,925.2 C547.9,924.6 547.7,921.9 546.3,919.2 C544.9,916.5 542.8,914.8 541.7,915.4"/><path class="ln2" d="M548.9,924.1 C550.0,923.5 549.8,920.8 548.4,918.1 C547.0,915.4 545.0,913.7 543.8,914.3"/><path class="ln2" d="M551.0,923.0 C552.1,922.4 551.9,919.7 550.5,917.0 C549.1,914.3 547.1,912.6 545.9,913.2"/>
<path class="p" d="M533.6,929.0 L541.3,925.0 C541.9,924.7 541.8,923.3 541.0,922.0 C540.3,920.6 539.3,919.7 538.7,920.0 L531.0,924.0 C530.4,924.3 530.5,925.7 531.3,927.0 C532.0,928.4 533.0,929.3 533.6,929.0 Z" /><ellipse class="p" cx="532.3" cy="926.5" rx="1.2" ry="2.8" transform="rotate(-27.5 532.3 926.5)" />
<path class="p" d="M551.9,900 L571,889 L583.7,896 L583.7,910 L566,921.3 L551.9,914 Z"/>
<path class="ln" d="M551.9,900 L566,907.5 L583.7,896 M566,907.5 L566,921.3"/>
<ellipse class="g" cx="558.5" cy="909.0" rx="3.0" ry="3.5" transform="rotate(-20.0 558.5 909.0)" /><ellipse class="dk" cx="558.5" cy="909.0" rx="1.5" ry="1.8" transform="rotate(-20.0 558.5 909.0)" />
<path class="p" d="M563,884 L571,884 L571,895 C569,897 565,897 563,895 Z"/>
<path class="p" d="M562,884 C562,880 564,876.5 567,876.5 C570,876.5 572,880 572,884 Z"/>
<path class="ln" d="M563,888 L571,888 M563,891 L571,891"/>
<path class="p" d="M583,915 L606,927 L605,930 L582,918 Z"/><ellipse class="p" cx="608.5" cy="930.5" rx="3.0" ry="3.8" transform="rotate(-60.0 608.5 930.5)" />
<path class="ln" d="M588,918 L587,921 M592,920 L591,923 M596,922 L595,925 M600,924 L599,927"/>
<path class="g" d="M595.3,899.0 L607.3,893.5 C608.5,893.0 608.4,890.3 607.1,887.5 C605.8,884.8 603.9,883.0 602.7,883.5 L590.7,889.0 C589.5,889.5 589.6,892.2 590.9,895.0 C592.2,897.7 594.1,899.5 595.3,899.0 Z" style="fill:#ddd"/>
<path class="ln2" d="M597.7,897.9 C598.9,897.4 598.8,894.7 597.5,891.9 C596.2,889.2 594.3,887.4 593.1,887.9"/><path class="ln2" d="M600.1,896.8 C601.3,896.3 601.2,893.6 599.9,890.8 C598.6,888.1 596.7,886.3 595.5,886.8"/><path class="ln2" d="M602.5,895.7 C603.7,895.2 603.6,892.5 602.3,889.7 C601.0,887.0 599.1,885.2 597.9,885.7"/><path class="ln2" d="M604.9,894.6 C606.1,894.1 606.0,891.4 604.7,888.6 C603.4,885.9 601.5,884.1 600.3,884.6"/>
<ellipse class="p" cx="590.0" cy="896.0" rx="2.5" ry="5.5" transform="rotate(-30.0 590.0 896.0)" />
<path class="p" d="M600,887 C602,883 606,882 610,884 L618.5,889 C620,893 619,898 616,899.2 L605,894 C601,893 599,890 600,887 Z"/>
<ellipse class="p" cx="616.5" cy="895.0" rx="2.8" ry="4.5" transform="rotate(-35.0 616.5 895.0)" /><ellipse class="g" cx="616.5" cy="895.0" rx="1.3" ry="2.2" transform="rotate(-35.0 616.5 895.0)" />
<path class="p" d="M621.7,894.5 C636,900 648,908 651.7,920 C654,930 650,938 642,942 C632,947 620,950 607.4,954 L606,948 C618,945 630,942 639,937 C645,934 647,928 645.5,921 C642,911 632,905 620,900.5 Z"/>
<ellipse class="p" cx="620.8" cy="897.6" rx="2.2" ry="3.5" transform="rotate(-65.0 620.8 897.6)" />
<ellipse class="p" cx="606.7" cy="951.0" rx="2.2" ry="3.5" transform="rotate(-75.0 606.7 951.0)" />
<path class="p" d="M582,960 L599,950 C603,949 605,952 604.3,955.5 L596,963 L593,968 L592,976 C590,979 585,979 584,976 L584,970 C580,970 577,967 578,964 Z"/>
<path class="g" d="M580.1,968.3 L588.1,964.3 C589.1,963.8 589.0,961.5 587.8,959.1 C586.6,956.7 584.8,955.2 583.9,955.7 L575.9,959.7 C574.9,960.2 575.0,962.5 576.2,964.9 C577.4,967.3 579.2,968.8 580.1,968.3 Z" style="fill:#ddd"/>
<ellipse class="p" cx="577.5" cy="965.0" rx="2.2" ry="4.8" transform="rotate(-30.0 577.5 965.0)" />
<ellipse class="p" cx="588.2" cy="978.0" rx="3.5" ry="2.0" transform="rotate(0.0 588.2 978.0)" />
<ellipse class="p" cx="601.5" cy="953.0" rx="2.2" ry="3.5" transform="rotate(-30.0 601.5 953.0)" />
</g>
<g class="ar">
<path class="ld" d="M78.0,58.5 L98.0,58.5 L246.0,89.0"/>
<path d="M246.0,89.0 L239.2,89.7 L240.1,85.6Z"/>
<path class="ld" d="M78.0,77.3 L98.0,77.3 L218.0,100.0"/>
<path d="M218.0,100.0 L211.2,100.9 L212.0,96.7Z"/>
<path class="ld" d="M78.0,96.0 L98.0,96.0 L207.0,103.0"/>
<path d="M207.0,103.0 L200.4,104.7 L200.6,100.5Z"/>
<path class="ld" d="M78.0,115.3 L98.0,115.3 L126.0,147.5"/>
<path d="M126.0,147.5 L120.2,144.0 L123.3,141.2Z"/>
<path class="ld" d="M78.0,135.5 L98.0,135.5 L110.7,153.3"/>
<path d="M110.7,153.3 L105.2,149.2 L108.6,146.8Z"/>
<path class="ld" d="M78.0,154.6 L99.0,154.6 L93.8,170.0"/>
<path d="M93.8,170.0 L93.9,163.2 L97.9,164.5Z"/>
<path class="ld" d="M31.3,165.4 L21.1,165.4 L35.5,188.8"/>
<path d="M35.5,188.8 L30.3,184.4 L33.9,182.2Z"/>
<path class="ld" d="M364.0,82.3 L349.4,82.3 L312.6,64.2"/>
<path d="M312.6,64.2 L319.4,65.2 L317.5,69.0Z"/>
<path class="ld" d="M364.0,101.9 L312.6,101.9"/>
<path d="M312.6,101.9 L319.1,99.8 L319.1,104.0Z"/>
<path class="ld" d="M364.0,120.0 L349.4,120.0 L315.0,127.8"/>
<path d="M315.0,127.8 L320.9,124.3 L321.8,128.4Z"/>
<path class="ld" d="M364.0,160.0 L349.4,160.0 L311.0,177.0"/>
<path d="M311.0,177.0 L316.1,172.4 L317.8,176.3Z"/>
<path class="ld" d="M364.0,178.6 L349.4,178.6 L306.0,197.0"/>
<path d="M306.0,197.0 L311.2,192.5 L312.8,196.4Z"/>
<path class="ld" d="M364.0,198.0 L349.4,198.0 L308.0,220.0"/>
<path d="M308.0,220.0 L312.8,215.1 L314.7,218.8Z"/>
<path class="ld" d="M364.0,217.0 L349.4,217.0 L307.5,236.0"/>
<path d="M307.5,236.0 L312.6,231.4 L314.3,235.2Z"/>
<path class="ld" d="M596.0,60.0 L610.0,60.0 L627.0,41.0"/>
<path d="M627.0,41.0 L624.2,47.2 L621.1,44.4Z"/>
<path class="ld" d="M574.0,78.7 L560.0,78.7 L549.0,56.8"/>
<path d="M549.0,56.8 L553.8,61.7 L550.0,63.6Z"/>
<path class="ld" d="M574.0,97.4 L555.5,97.4 L521.0,75.6"/>
<path d="M521.0,75.6 L527.6,77.3 L525.4,80.8Z"/>
<path class="ld" d="M574.0,117.4 L562.0,117.4 L488.4,95.5"/>
<path d="M488.4,95.5 L495.2,95.3 L494.0,99.4Z"/>
<path class="ld" d="M690.5,165.0 L701.0,165.0 L723.0,176.0"/>
<path d="M723.0,176.0 L716.2,175.0 L718.1,171.2Z"/>
<path class="ld" d="M645.6,191.0 L653.8,191.0 L672.8,198.4"/>
<path d="M672.8,198.4 L666.0,198.0 L667.5,194.1Z"/>
<path class="ld" d="M562.5,242.0 L606.0,242.0"/>
<path d="M606.0,242.0 L599.5,244.1 L599.5,239.9Z"/>
<path class="ld" d="M562.5,259.6 L582.0,259.6 L626.6,274.5"/>
<path d="M626.6,274.5 L619.8,274.4 L621.1,270.4Z"/>
<path class="ld" d="M562.5,280.0 L582.0,280.0 L630.7,292.0"/>
<path d="M630.7,292.0 L623.9,292.5 L624.9,288.4Z"/>
<path class="ld" d="M562.5,299.0 L582.0,299.0 L629.0,314.0"/>
<path d="M629.0,314.0 L622.2,314.0 L623.4,310.0Z"/>
<path class="ld" d="M562.5,318.0 L582.0,318.0 L629.0,333.5"/>
<path d="M629.0,333.5 L622.2,333.5 L623.5,329.5Z"/>
<path class="ld" d="M562.5,337.0 L582.0,337.0 L621.0,354.7"/>
<path d="M621.0,354.7 L614.2,353.9 L615.9,350.1Z"/>
<path class="ld" d="M732.6,260.4 L690.0,260.4"/>
<path d="M690.0,260.4 L696.5,258.3 L696.5,262.5Z"/>
<path class="ld" d="M732.0,279.0 L716.0,279.0"/>
<path d="M716.0,279.0 L722.5,276.9 L722.5,281.1Z"/>
<path class="ld" d="M120.3,383.0 L137.3,383.0 L137.3,359.5"/>
<path d="M137.3,359.5 L139.4,366.0 L135.2,366.0Z"/>
<path class="ld" d="M120.0,435.0 L137.3,435.0 L241.7,327.5"/>
<path d="M241.7,327.5 L238.7,333.6 L235.7,330.7Z"/>
<path class="ld" d="M120.0,473.4 L137.3,473.4 L217.0,492.0"/>
<path d="M217.0,492.0 L210.2,492.6 L211.1,488.5Z"/>
<path class="ld" d="M270.0,406.0 L299.4,406.0"/>
<path d="M299.4,406.0 L292.9,408.1 L292.9,403.9Z"/>
<path class="ld" d="M270.0,425.5 L278.0,425.5 L268.0,463.0"/>
<path d="M268.0,463.0 L267.6,456.2 L271.7,457.3Z"/>
<path class="ld" d="M414.5,406.0 L393.0,406.0"/>
<path d="M393.0,406.0 L399.5,403.9 L399.5,408.1Z"/>
<path class="ld" d="M413.0,425.4 L406.0,425.4 L424.5,463.0"/>
<path d="M424.5,463.0 L419.7,458.1 L423.5,456.2Z"/>
<path class="ld" d="M511.0,479.5 L529.0,479.5 L516.3,438.8"/>
<path d="M516.3,438.8 L520.2,444.3 L516.2,445.6Z"/>
<path class="ld" d="M511.0,499.0 L527.6,499.0 L556.8,480.0"/>
<path d="M556.8,480.0 L552.5,485.3 L550.2,481.8Z"/>
<path class="ld" d="M511.0,517.6 L527.6,517.6 L556.8,504.0"/>
<path d="M556.8,504.0 L551.8,508.6 L550.0,504.8Z"/>
<path class="ld" d="M112.5,646.7 L149.0,646.7 L219.0,637.3"/>
<path d="M219.0,637.3 L212.8,640.2 L212.3,636.1Z"/>
<path class="ld" d="M112.5,666.2 L273.8,666.2"/>
<path d="M273.8,666.2 L267.3,668.3 L267.3,664.1Z"/>
<path class="ld" d="M112.5,685.7 L149.0,685.7 L331.0,708.7"/>
<path d="M331.0,708.7 L324.3,710.0 L324.8,705.8Z"/>
<path class="ld" d="M112.5,705.0 L149.0,705.0 L300.0,736.0"/>
<path d="M300.0,736.0 L293.2,736.7 L294.1,732.6Z"/>
<path class="ld" d="M112.5,724.0 L149.0,724.0 L224.3,761.6"/>
<path d="M224.3,761.6 L217.5,760.6 L219.4,756.8Z"/>
<path class="ld" d="M112.5,743.4 L149.0,743.4 L191.8,770.8"/>
<path d="M191.8,770.8 L185.2,769.0 L187.5,765.5Z"/>
<path class="ld" d="M112.5,762.7 L149.0,762.7 L174.8,795.5"/>
<path d="M174.8,795.5 L169.1,791.7 L172.4,789.1Z"/>
<path class="ld" d="M392.0,603.4 L384.4,603.4 L372.7,609.0"/>
<path d="M372.7,609.0 L377.7,604.3 L379.5,608.1Z"/>
<path class="ld" d="M392.0,620.3 L384.4,620.3 L354.5,628.0"/>
<path d="M354.5,628.0 L360.3,624.3 L361.3,628.4Z"/>
<path class="ld" d="M392.0,753.7 L388.3,753.7 L376.6,732.0"/>
<path d="M376.6,732.0 L381.5,736.7 L377.8,738.7Z"/>
<path class="ld" d="M392.0,769.3 L388.3,769.3 L350.6,734.0"/>
<path d="M350.6,734.0 L356.8,736.9 L353.9,740.0Z"/>
<path class="ld" d="M388.3,769.3 L353.2,743.0"/>
<path d="M353.2,743.0 L359.7,745.2 L357.1,748.6Z"/>
<path class="ld" d="M456.0,636.0 L463.8,636.0 L463.8,643.7"/>
<path d="M463.8,643.7 L461.7,637.2 L465.9,637.2Z"/>
<path class="ld" d="M544.8,609.5 L540.0,609.5 L508.5,659.4"/>
<path d="M508.5,659.4 L510.2,652.8 L513.7,655.0Z"/>
<path class="ld" d="M531.0,729.8 L525.0,729.8 L544.8,702.6"/>
<path d="M544.8,702.6 L542.7,709.1 L539.3,706.6Z"/>
<path class="ld" d="M623.0,648.0 L637.0,648.0"/>
<path d="M637.0,648.0 L630.5,650.1 L630.5,645.9Z"/>
<path class="ld" d="M607.0,760.0 L615.0,760.0 L628.8,775.0"/>
<path d="M628.8,775.0 L622.9,771.6 L625.9,768.8Z"/>
<path class="ld" d="M454.0,787.0 L461.0,787.0 L505.3,760.7"/>
<path d="M505.3,760.7 L500.8,765.8 L498.6,762.2Z"/>
<path class="ld" d="M639.0,825.0 L649.0,825.0 L697.8,792.4"/>
<path d="M697.8,792.4 L693.6,797.8 L691.2,794.3Z"/>
<path class="ld" d="M567.5,847.8 L558.4,847.8 L548.0,835.0"/>
<path d="M548.0,835.0 L553.7,838.7 L550.5,841.4Z"/>
<path class="ld" d="M422.0,889.8 L430.6,889.8 L440.7,868.0"/>
<path d="M440.7,868.0 L439.9,874.8 L436.1,873.0Z"/>
<path class="ld" d="M422.0,907.5 L450.8,907.5 L480.0,918.6"/>
<path d="M480.0,918.6 L473.2,918.3 L474.7,914.3Z"/>
<path class="ld" d="M626.0,864.5 L633.0,864.5 L617.7,890.8"/>
<path d="M617.7,890.8 L619.2,884.1 L622.8,886.2Z"/>
<path class="ld" d="M538.0,953.0 L543.0,953.0 L543.0,926.0"/>
<path d="M543.0,926.0 L545.1,932.5 L540.9,932.5Z"/>
<path class="ld" d="M538.0,969.2 L544.4,969.2 L562.0,918.6"/>
<path d="M562.0,918.6 L561.8,925.4 L557.9,924.0Z"/>
<path class="ld" d="M538.0,1004.6 L544.0,1004.6 L577.0,971.7"/>
<path d="M577.0,971.7 L573.9,977.8 L570.9,974.8Z"/>
<path class="ld" d="M538.0,1022.3 L587.0,1022.3 L595.0,1007.0"/>
<path d="M595.0,1007.0 L593.8,1013.7 L590.1,1011.8Z"/>
<path class="ld" d="M163.8,923.8 L155.7,923.8 L95.6,858.3"/>
<path d="M95.6,858.3 L101.5,861.7 L98.4,864.5Z"/>
<path class="ld" d="M163.8,944.6 L155.7,944.6 L68.3,890.0"/>
<path d="M68.3,890.0 L74.9,891.7 L72.7,895.2Z"/>
<path class="ld" d="M226.6,939.0 L237.6,939.0 L270.0,910.0"/>
<path d="M270.0,910.0 L266.6,915.9 L263.8,912.8Z"/>
<path class="ld" d="M226.6,957.7 L240.0,957.7 L295.0,922.7"/>
<path d="M295.0,922.7 L290.6,928.0 L288.4,924.4Z"/>
<path class="ld" d="M226.6,977.0 L289.5,970.0"/>
<path d="M289.5,970.0 L283.3,972.8 L282.8,968.6Z"/>
<path class="ld" d="M226.6,996.5 L289.5,984.0"/>
<path d="M289.5,984.0 L283.5,987.3 L282.7,983.2Z"/>
<path class="ld" d="M226.6,1015.6 L289.5,1015.6"/>
<path d="M289.5,1015.6 L283.0,1017.7 L283.0,1013.5Z"/>
<path class="ld" d="M393.0,1009.0 L352.0,1009.0"/>
<path d="M352.0,1009.0 L358.5,1006.9 L358.5,1011.1Z"/>
</g>
<g class="lb">
<text x="66" y="64.1">1</text>
<text x="66" y="83.6">2</text>
<text x="66" y="103.1">3</text>
<text x="66" y="122.6">4</text>
<text x="66" y="142.1">5</text>
<text x="66" y="161.1">6</text>
<text x="33.5" y="172.6">7</text>
<text x="365.5" y="88.6">9</text>
<text x="366" y="108.1">10</text>
<text x="366" y="127.1">11</text>
<text x="366" y="166.1">12</text>
<text x="366" y="185.6">13</text>
<text x="366" y="204.1">14</text>
<text x="366" y="223.1">15</text>
<text x="575.5" y="66.1">22</text>
<text x="575.5" y="85.1">23</text>
<text x="575.5" y="104.6">24</text>
<text x="575.5" y="123.6">25</text>
<text x="671.5" y="170.6">32</text>
<text x="624.5" y="197.6">33</text>
<text x="542.5" y="248.1">26</text>
<text x="542.5" y="267.6">27</text>
<text x="542.5" y="287.1">28</text>
<text x="542.5" y="306.1">29</text>
<text x="542.5" y="325.6">30</text>
<text x="542.5" y="345.1">31</text>
<text x="733.5" y="266.1">34</text>
<text x="733.5" y="285.6">35</text>
<text x="108.5" y="390.1">8</text>
<text x="100" y="441.1">16</text>
<text x="100" y="480.1">17</text>
<text x="250.5" y="412.6">18</text>
<text x="249" y="432.6">20</text>
<text x="415.5" y="412.1">19</text>
<text x="414" y="431.6">21</text>
<text x="491.5" y="486.6">36</text>
<text x="491.5" y="506.1">37</text>
<text x="491.5" y="525.1">38</text>
<text x="91" y="652.8">39</text>
<text x="91" y="672.5">40</text>
<text x="91" y="691.8">41</text>
<text x="91" y="711.1">42</text>
<text x="91" y="730.6">43</text>
<text x="91" y="749.6">44</text>
<text x="91" y="769.1">45</text>
<text x="394" y="609.1">48</text>
<text x="394" y="627.1">49</text>
<text x="394" y="759.7">50</text>
<text x="394" y="775.1">51</text>
<text x="436" y="642.6">58</text>
<text x="546.5" y="615.1">62</text>
<text x="533" y="736.1">63</text>
<text x="603.5" y="654.6">64</text>
<text x="586.5" y="766.1">65</text>
<text x="433" y="793.1">59</text>
<text x="619" y="832.1">72</text>
<text x="569.5" y="854.6">66</text>
<text x="605.5" y="872.1">67</text>
<text x="400.5" y="896.1">60</text>
<text x="400.5" y="914.6">61</text>
<text x="518.5" y="959.1">68</text>
<text x="518.5" y="976.1">69</text>
<text x="518.5" y="1011.1">70</text>
<text x="518.5" y="1029.1">71</text>
<text x="166" y="930.1">46</text>
<text x="166" y="950.1">47</text>
<text x="207" y="945.1">52</text>
<text x="207" y="964.1">53</text>
<text x="207" y="983.1">54</text>
<text x="207" y="1002.6">55</text>
<text x="207" y="1022.1">56</text>
<text x="395.5" y="1015.1">57</text>
</g>
<text x="717" y="1072" style="font-family:'Liberation Sans',sans-serif;font-size:16px;fill:#111">CI1102</text>
</svg>
</body></html>
